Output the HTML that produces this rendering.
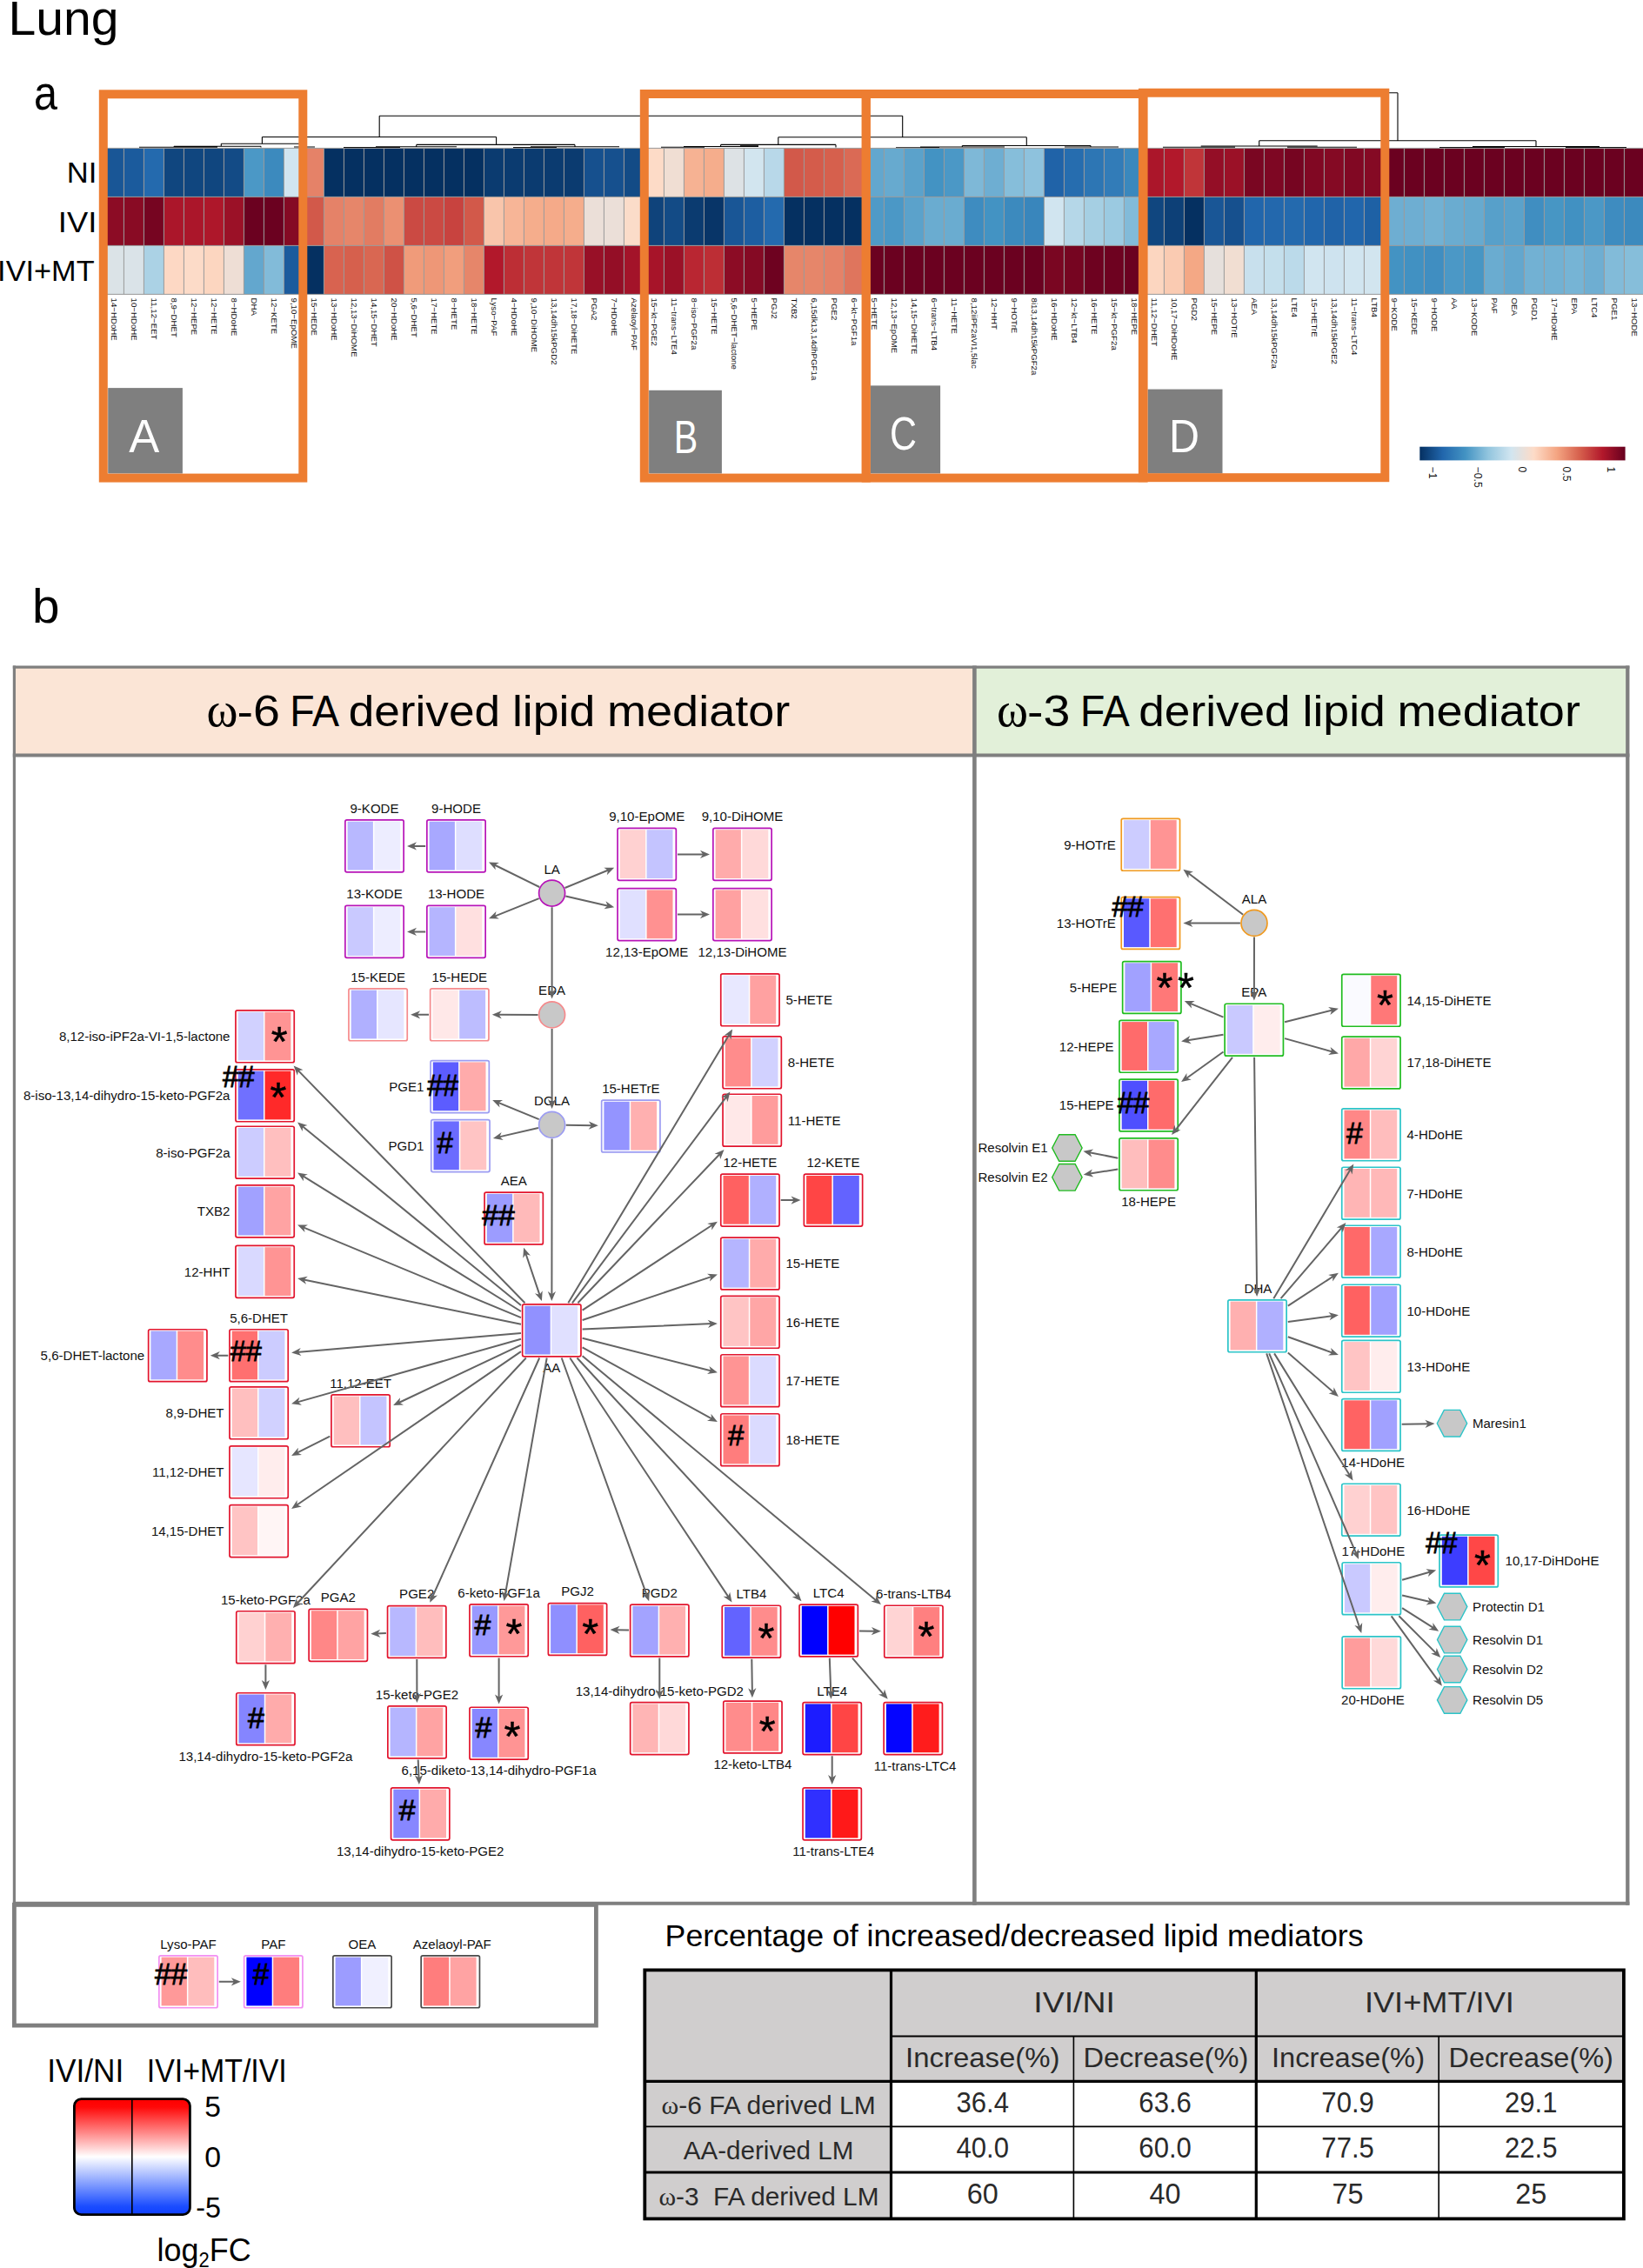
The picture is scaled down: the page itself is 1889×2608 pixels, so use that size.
<!DOCTYPE html>
<html lang="en"><head><meta charset="utf-8"><title>Lung lipid mediators</title>
<style>html,body{margin:0;padding:0;background:#fff}svg{display:block}</style></head>
<body>
<svg width="1889" height="2608" viewBox="0 0 1889 2608" font-family="'Liberation Sans',sans-serif">
<rect x="16" y="767" width="1104" height="102" fill="#fbe5d6"/>
<rect x="1121" y="767" width="750" height="102" fill="#e2f0d9"/>
<path d="M14.8 767.1H1873.4" stroke="#7f7f7f" stroke-width="3.4" fill="none"/>
<path d="M14.8 868.5H1873.4" stroke="#7f7f7f" stroke-width="3.9" fill="none"/>
<path d="M16.4 765.4V2190.8" stroke="#7f7f7f" stroke-width="3.2" fill="none"/>
<path d="M1120.4 765.4V2190.8" stroke="#7f7f7f" stroke-width="4.6" fill="none"/>
<path d="M1871.3 765.4V2190.8" stroke="#7f7f7f" stroke-width="4.3" fill="none"/>
<path d="M14.8 2188.8H1873.4" stroke="#7f7f7f" stroke-width="3.9" fill="none"/>
<rect x="16.4" y="2190.4" width="669" height="138.7" stroke="#7f7f7f" stroke-width="4.8" fill="none"/>
<text x="237.4" y="834.8" font-size="57" font-family="'Liberation Serif',serif" textLength="36" lengthAdjust="spacingAndGlyphs">ω</text>
<text x="272.5" y="834.8" font-size="49.5" textLength="49.4" lengthAdjust="spacingAndGlyphs">-6</text>
<text x="333.3" y="834.8" font-size="49.5" textLength="56.8" lengthAdjust="spacingAndGlyphs">FA</text>
<text x="400.7" y="834.8" font-size="49.5" textLength="174.4" lengthAdjust="spacingAndGlyphs">derived</text>
<text x="588.9" y="834.8" font-size="49.5" textLength="95.4" lengthAdjust="spacingAndGlyphs">lipid</text>
<text x="698.0" y="834.8" font-size="49.5" textLength="210.3" lengthAdjust="spacingAndGlyphs">mediator</text>
<text x="1146.0" y="835.1" font-size="57" font-family="'Liberation Serif',serif" textLength="36" lengthAdjust="spacingAndGlyphs">ω</text>
<text x="1181.1" y="835.1" font-size="49.5" textLength="49.4" lengthAdjust="spacingAndGlyphs">-3</text>
<text x="1241.9" y="835.1" font-size="49.5" textLength="56.8" lengthAdjust="spacingAndGlyphs">FA</text>
<text x="1309.3" y="835.1" font-size="49.5" textLength="174.4" lengthAdjust="spacingAndGlyphs">derived</text>
<text x="1497.5" y="835.1" font-size="49.5" textLength="95.4" lengthAdjust="spacingAndGlyphs">lipid</text>
<text x="1606.6" y="835.1" font-size="49.5" textLength="210.3" lengthAdjust="spacingAndGlyphs">mediator</text>
<text x="37" y="716" font-size="56" textLength="31.5" lengthAdjust="spacingAndGlyphs">b</text>
<text x="9.5" y="39.6" font-size="56" textLength="127" lengthAdjust="spacingAndGlyphs">Lung</text>
<text x="39" y="126.3" font-size="56" textLength="27" lengthAdjust="spacingAndGlyphs">a</text>
<text x="111.3" y="210" font-size="33.5" text-anchor="end" textLength="34.5" lengthAdjust="spacingAndGlyphs">NI</text>
<text x="111.3" y="266.5" font-size="33.5" text-anchor="end" textLength="44.5" lengthAdjust="spacingAndGlyphs">IVI</text>
<text x="108.6" y="322.5" font-size="33.5" text-anchor="end" textLength="111.5" lengthAdjust="spacingAndGlyphs">IVI+MT</text>
<path d="M737 106.8H1607M737 106.8V133.2M1607 106.8V161.7M436.2 133.2H1037.7M436.2 133.2V157.5M1037.7 133.2V157.8M301.4 157.5H570.6M301.4 157.5V165.2M570.6 157.5V166.4M254.3 165.2H349.3M254.3 165.2V168.3M349.3 165.2V169.0M200 168.3H300M200 168.3V169.5M300 168.3V169.5M160 169.3H250M338 169.0H362M478.7 166.4H661M478.7 166.4V168.8M661 166.4V168.8M432 168.8H525M610 168.8H712M395 169.6H460M590 169.6H640M894.8 157.8H1180.3M894.8 157.8V166.4M1180.3 157.8V167.5M828.6 166.4H961M828.6 166.4V168.5M961 166.4V169.5M786 168.5H872M760 169.3H810M851 167.8H872M1106.3 167.5H1254M1106.3 167.5V169M1254 167.5V169M1058 169H1155M1224 169H1286M1030 169.7H1080M1447.7 161.7H1766M1447.7 161.7V168M1766 161.7V168.5M1380.7 168H1514.7M1693 168.5H1839M1337 169.3H1420M1480 169.3H1560M1655 169.5H1730M1800 169.5H1870" stroke="#000" stroke-width="1.1" fill="none"/>
<rect x="119.4" y="170.4" width="23.0" height="56.0" fill="#195696"/>
<rect x="142.4" y="170.4" width="23.0" height="56.0" fill="#1b5b9d"/>
<rect x="165.4" y="170.4" width="23.0" height="56.0" fill="#246aae"/>
<rect x="188.4" y="170.4" width="23.0" height="56.0" fill="#10467f"/>
<rect x="211.4" y="170.4" width="23.0" height="56.0" fill="#10467f"/>
<rect x="234.4" y="170.4" width="23.0" height="56.0" fill="#10467f"/>
<rect x="257.4" y="170.4" width="23.0" height="56.0" fill="#134b86"/>
<rect x="280.4" y="170.4" width="23.0" height="56.0" fill="#4b98c6"/>
<rect x="303.4" y="170.4" width="23.0" height="56.0" fill="#3c8abe"/>
<rect x="326.4" y="170.4" width="23.0" height="56.0" fill="#d1e5f0"/>
<rect x="349.4" y="170.4" width="23.0" height="56.0" fill="#e58268"/>
<rect x="372.4" y="170.4" width="23.0" height="56.0" fill="#053061"/>
<rect x="395.4" y="170.4" width="23.0" height="56.0" fill="#053061"/>
<rect x="418.4" y="170.4" width="23.0" height="56.0" fill="#053061"/>
<rect x="441.4" y="170.4" width="23.0" height="56.0" fill="#053061"/>
<rect x="464.4" y="170.4" width="23.0" height="56.0" fill="#053061"/>
<rect x="487.4" y="170.4" width="23.0" height="56.0" fill="#053061"/>
<rect x="510.4" y="170.4" width="23.0" height="56.0" fill="#053061"/>
<rect x="533.4" y="170.4" width="23.0" height="56.0" fill="#053061"/>
<rect x="556.4" y="170.4" width="23.0" height="56.0" fill="#0b3b70"/>
<rect x="579.4" y="170.4" width="23.0" height="56.0" fill="#0b3b70"/>
<rect x="602.4" y="170.4" width="23.0" height="56.0" fill="#0b3b70"/>
<rect x="625.4" y="170.4" width="23.0" height="56.0" fill="#0b3b70"/>
<rect x="648.4" y="170.4" width="23.0" height="56.0" fill="#0b3b70"/>
<rect x="671.4" y="170.4" width="23.0" height="56.0" fill="#16508e"/>
<rect x="694.4" y="170.4" width="23.0" height="56.0" fill="#16508e"/>
<rect x="717.4" y="170.4" width="23.0" height="56.0" fill="#134b86"/>
<rect x="740.4" y="170.4" width="23.0" height="56.0" fill="#fddbc7"/>
<rect x="763.4" y="170.4" width="23.0" height="56.0" fill="#f0ded3"/>
<rect x="786.4" y="170.4" width="23.0" height="56.0" fill="#f6b293"/>
<rect x="809.4" y="170.4" width="23.0" height="56.0" fill="#f5ad8c"/>
<rect x="832.4" y="170.4" width="23.0" height="56.0" fill="#dde2e5"/>
<rect x="855.4" y="170.4" width="23.0" height="56.0" fill="#d2e5ef"/>
<rect x="878.4" y="170.4" width="23.0" height="56.0" fill="#b8d8e9"/>
<rect x="901.4" y="170.4" width="23.0" height="56.0" fill="#d2594a"/>
<rect x="924.4" y="170.4" width="23.0" height="56.0" fill="#d45c4b"/>
<rect x="947.4" y="170.4" width="23.0" height="56.0" fill="#d6604d"/>
<rect x="970.4" y="170.4" width="23.0" height="56.0" fill="#da6a55"/>
<rect x="993.4" y="170.4" width="23.0" height="56.0" fill="#63a7ce"/>
<rect x="1016.4" y="170.4" width="23.0" height="56.0" fill="#67aacf"/>
<rect x="1039.4" y="170.4" width="23.0" height="56.0" fill="#5ba2cb"/>
<rect x="1062.4" y="170.4" width="23.0" height="56.0" fill="#4393c3"/>
<rect x="1085.4" y="170.4" width="23.0" height="56.0" fill="#4b98c6"/>
<rect x="1108.4" y="170.4" width="23.0" height="56.0" fill="#7eb8d7"/>
<rect x="1131.4" y="170.4" width="23.0" height="56.0" fill="#6eaed2"/>
<rect x="1154.4" y="170.4" width="23.0" height="56.0" fill="#86beda"/>
<rect x="1177.4" y="170.4" width="23.0" height="56.0" fill="#8ec2dd"/>
<rect x="1200.4" y="170.4" width="23.0" height="56.0" fill="#2063a8"/>
<rect x="1223.4" y="170.4" width="23.0" height="56.0" fill="#266daf"/>
<rect x="1246.4" y="170.4" width="23.0" height="56.0" fill="#2d76b4"/>
<rect x="1269.4" y="170.4" width="23.0" height="56.0" fill="#327cb8"/>
<rect x="1292.4" y="170.4" width="23.0" height="56.0" fill="#3a88bd"/>
<rect x="1315.4" y="170.4" width="23.0" height="56.0" fill="#ab162a"/>
<rect x="1338.4" y="170.4" width="23.0" height="56.0" fill="#b2182b"/>
<rect x="1361.4" y="170.4" width="23.0" height="56.0" fill="#c03539"/>
<rect x="1384.4" y="170.4" width="23.0" height="56.0" fill="#940e26"/>
<rect x="1407.4" y="170.4" width="23.0" height="56.0" fill="#9b1127"/>
<rect x="1430.4" y="170.4" width="23.0" height="56.0" fill="#7a0622"/>
<rect x="1453.4" y="170.4" width="23.0" height="56.0" fill="#7e0723"/>
<rect x="1476.4" y="170.4" width="23.0" height="56.0" fill="#760521"/>
<rect x="1499.4" y="170.4" width="23.0" height="56.0" fill="#810823"/>
<rect x="1522.4" y="170.4" width="23.0" height="56.0" fill="#850a24"/>
<rect x="1545.4" y="170.4" width="23.0" height="56.0" fill="#810823"/>
<rect x="1568.4" y="170.4" width="23.0" height="56.0" fill="#850a24"/>
<rect x="1591.4" y="170.4" width="23.0" height="56.0" fill="#6b0120"/>
<rect x="1614.4" y="170.4" width="23.0" height="56.0" fill="#6b0120"/>
<rect x="1637.4" y="170.4" width="23.0" height="56.0" fill="#6b0120"/>
<rect x="1660.4" y="170.4" width="23.0" height="56.0" fill="#6b0120"/>
<rect x="1683.4" y="170.4" width="23.0" height="56.0" fill="#6b0120"/>
<rect x="1706.4" y="170.4" width="23.0" height="56.0" fill="#6b0120"/>
<rect x="1729.4" y="170.4" width="23.0" height="56.0" fill="#6b0120"/>
<rect x="1752.4" y="170.4" width="23.0" height="56.0" fill="#6b0120"/>
<rect x="1775.4" y="170.4" width="23.0" height="56.0" fill="#6b0120"/>
<rect x="1798.4" y="170.4" width="23.0" height="56.0" fill="#6b0120"/>
<rect x="1821.4" y="170.4" width="23.0" height="56.0" fill="#6b0120"/>
<rect x="1844.4" y="170.4" width="23.0" height="56.0" fill="#6b0120"/>
<rect x="1867.4" y="170.4" width="23.0" height="56.0" fill="#6b0120"/>
<rect x="119.4" y="226.4" width="23.0" height="56.0" fill="#8c0c25"/>
<rect x="142.4" y="226.4" width="23.0" height="56.0" fill="#890b24"/>
<rect x="165.4" y="226.4" width="23.0" height="56.0" fill="#760521"/>
<rect x="188.4" y="226.4" width="23.0" height="56.0" fill="#ab162a"/>
<rect x="211.4" y="226.4" width="23.0" height="56.0" fill="#ab162a"/>
<rect x="234.4" y="226.4" width="23.0" height="56.0" fill="#ae172a"/>
<rect x="257.4" y="226.4" width="23.0" height="56.0" fill="#9b1127"/>
<rect x="280.4" y="226.4" width="23.0" height="56.0" fill="#6b0120"/>
<rect x="303.4" y="226.4" width="23.0" height="56.0" fill="#6b0120"/>
<rect x="326.4" y="226.4" width="23.0" height="56.0" fill="#850a24"/>
<rect x="349.4" y="226.4" width="23.0" height="56.0" fill="#d2594a"/>
<rect x="372.4" y="226.4" width="23.0" height="56.0" fill="#e58268"/>
<rect x="395.4" y="226.4" width="23.0" height="56.0" fill="#e6866a"/>
<rect x="418.4" y="226.4" width="23.0" height="56.0" fill="#e27c62"/>
<rect x="441.4" y="226.4" width="23.0" height="56.0" fill="#eb9072"/>
<rect x="464.4" y="226.4" width="23.0" height="56.0" fill="#cb4a43"/>
<rect x="487.4" y="226.4" width="23.0" height="56.0" fill="#cb4a43"/>
<rect x="510.4" y="226.4" width="23.0" height="56.0" fill="#c8433f"/>
<rect x="533.4" y="226.4" width="23.0" height="56.0" fill="#d2594a"/>
<rect x="556.4" y="226.4" width="23.0" height="56.0" fill="#f9c5ab"/>
<rect x="579.4" y="226.4" width="23.0" height="56.0" fill="#f7b597"/>
<rect x="602.4" y="226.4" width="23.0" height="56.0" fill="#f5ad8c"/>
<rect x="625.4" y="226.4" width="23.0" height="56.0" fill="#f5aa89"/>
<rect x="648.4" y="226.4" width="23.0" height="56.0" fill="#f5ad8c"/>
<rect x="671.4" y="226.4" width="23.0" height="56.0" fill="#ebdfd8"/>
<rect x="694.4" y="226.4" width="23.0" height="56.0" fill="#ebdfd8"/>
<rect x="717.4" y="226.4" width="23.0" height="56.0" fill="#fbdcc9"/>
<rect x="740.4" y="226.4" width="23.0" height="56.0" fill="#0f437b"/>
<rect x="763.4" y="226.4" width="23.0" height="56.0" fill="#134b86"/>
<rect x="786.4" y="226.4" width="23.0" height="56.0" fill="#0b3b70"/>
<rect x="809.4" y="226.4" width="23.0" height="56.0" fill="#083568"/>
<rect x="832.4" y="226.4" width="23.0" height="56.0" fill="#195696"/>
<rect x="855.4" y="226.4" width="23.0" height="56.0" fill="#1d5ea1"/>
<rect x="878.4" y="226.4" width="23.0" height="56.0" fill="#246aae"/>
<rect x="901.4" y="226.4" width="23.0" height="56.0" fill="#053061"/>
<rect x="924.4" y="226.4" width="23.0" height="56.0" fill="#053061"/>
<rect x="947.4" y="226.4" width="23.0" height="56.0" fill="#053061"/>
<rect x="970.4" y="226.4" width="23.0" height="56.0" fill="#053061"/>
<rect x="993.4" y="226.4" width="23.0" height="56.0" fill="#4f9ac7"/>
<rect x="1016.4" y="226.4" width="23.0" height="56.0" fill="#4b98c6"/>
<rect x="1039.4" y="226.4" width="23.0" height="56.0" fill="#5ba2cb"/>
<rect x="1062.4" y="226.4" width="23.0" height="56.0" fill="#6aacd0"/>
<rect x="1085.4" y="226.4" width="23.0" height="56.0" fill="#6aacd0"/>
<rect x="1108.4" y="226.4" width="23.0" height="56.0" fill="#3e8cc0"/>
<rect x="1131.4" y="226.4" width="23.0" height="56.0" fill="#4393c3"/>
<rect x="1154.4" y="226.4" width="23.0" height="56.0" fill="#3c8abe"/>
<rect x="1177.4" y="226.4" width="23.0" height="56.0" fill="#3986bc"/>
<rect x="1200.4" y="226.4" width="23.0" height="56.0" fill="#d1e5f0"/>
<rect x="1223.4" y="226.4" width="23.0" height="56.0" fill="#b5d7e8"/>
<rect x="1246.4" y="226.4" width="23.0" height="56.0" fill="#a5cfe3"/>
<rect x="1269.4" y="226.4" width="23.0" height="56.0" fill="#9bcae1"/>
<rect x="1292.4" y="226.4" width="23.0" height="56.0" fill="#82bbd9"/>
<rect x="1315.4" y="226.4" width="23.0" height="56.0" fill="#10467f"/>
<rect x="1338.4" y="226.4" width="23.0" height="56.0" fill="#0d4077"/>
<rect x="1361.4" y="226.4" width="23.0" height="56.0" fill="#053061"/>
<rect x="1384.4" y="226.4" width="23.0" height="56.0" fill="#195696"/>
<rect x="1407.4" y="226.4" width="23.0" height="56.0" fill="#16508e"/>
<rect x="1430.4" y="226.4" width="23.0" height="56.0" fill="#2166ac"/>
<rect x="1453.4" y="226.4" width="23.0" height="56.0" fill="#2368ad"/>
<rect x="1476.4" y="226.4" width="23.0" height="56.0" fill="#246aae"/>
<rect x="1499.4" y="226.4" width="23.0" height="56.0" fill="#2166ac"/>
<rect x="1522.4" y="226.4" width="23.0" height="56.0" fill="#2063a8"/>
<rect x="1545.4" y="226.4" width="23.0" height="56.0" fill="#2166ac"/>
<rect x="1568.4" y="226.4" width="23.0" height="56.0" fill="#1e61a5"/>
<rect x="1591.4" y="226.4" width="23.0" height="56.0" fill="#6eaed2"/>
<rect x="1614.4" y="226.4" width="23.0" height="56.0" fill="#6eaed2"/>
<rect x="1637.4" y="226.4" width="23.0" height="56.0" fill="#72b1d3"/>
<rect x="1660.4" y="226.4" width="23.0" height="56.0" fill="#6aacd0"/>
<rect x="1683.4" y="226.4" width="23.0" height="56.0" fill="#67aacf"/>
<rect x="1706.4" y="226.4" width="23.0" height="56.0" fill="#57a0ca"/>
<rect x="1729.4" y="226.4" width="23.0" height="56.0" fill="#5ba2cb"/>
<rect x="1752.4" y="226.4" width="23.0" height="56.0" fill="#408ec1"/>
<rect x="1775.4" y="226.4" width="23.0" height="56.0" fill="#4796c4"/>
<rect x="1798.4" y="226.4" width="23.0" height="56.0" fill="#4191c2"/>
<rect x="1821.4" y="226.4" width="23.0" height="56.0" fill="#4b98c6"/>
<rect x="1844.4" y="226.4" width="23.0" height="56.0" fill="#3e8cc0"/>
<rect x="1867.4" y="226.4" width="23.0" height="56.0" fill="#3c8abe"/>
<rect x="119.4" y="282.4" width="23.0" height="56.0" fill="#dbe3e7"/>
<rect x="142.4" y="282.4" width="23.0" height="56.0" fill="#dae3e8"/>
<rect x="165.4" y="282.4" width="23.0" height="56.0" fill="#abd2e5"/>
<rect x="188.4" y="282.4" width="23.0" height="56.0" fill="#fdd8c4"/>
<rect x="211.4" y="282.4" width="23.0" height="56.0" fill="#fcdbc8"/>
<rect x="234.4" y="282.4" width="23.0" height="56.0" fill="#fcd6c0"/>
<rect x="257.4" y="282.4" width="23.0" height="56.0" fill="#eeded5"/>
<rect x="280.4" y="282.4" width="23.0" height="56.0" fill="#63a7ce"/>
<rect x="303.4" y="282.4" width="23.0" height="56.0" fill="#82bbd9"/>
<rect x="326.4" y="282.4" width="23.0" height="56.0" fill="#1b5b9d"/>
<rect x="349.4" y="282.4" width="23.0" height="56.0" fill="#053061"/>
<rect x="372.4" y="282.4" width="23.0" height="56.0" fill="#d86350"/>
<rect x="395.4" y="282.4" width="23.0" height="56.0" fill="#d6604d"/>
<rect x="418.4" y="282.4" width="23.0" height="56.0" fill="#d96752"/>
<rect x="441.4" y="282.4" width="23.0" height="56.0" fill="#cf5246"/>
<rect x="464.4" y="282.4" width="23.0" height="56.0" fill="#f09b7a"/>
<rect x="487.4" y="282.4" width="23.0" height="56.0" fill="#ee9777"/>
<rect x="510.4" y="282.4" width="23.0" height="56.0" fill="#f19e7d"/>
<rect x="533.4" y="282.4" width="23.0" height="56.0" fill="#e6866a"/>
<rect x="556.4" y="282.4" width="23.0" height="56.0" fill="#b2182b"/>
<rect x="579.4" y="282.4" width="23.0" height="56.0" fill="#bd2e35"/>
<rect x="602.4" y="282.4" width="23.0" height="56.0" fill="#c03539"/>
<rect x="625.4" y="282.4" width="23.0" height="56.0" fill="#c03539"/>
<rect x="648.4" y="282.4" width="23.0" height="56.0" fill="#c03539"/>
<rect x="671.4" y="282.4" width="23.0" height="56.0" fill="#981027"/>
<rect x="694.4" y="282.4" width="23.0" height="56.0" fill="#940e26"/>
<rect x="717.4" y="282.4" width="23.0" height="56.0" fill="#a31329"/>
<rect x="740.4" y="282.4" width="23.0" height="56.0" fill="#a71429"/>
<rect x="763.4" y="282.4" width="23.0" height="56.0" fill="#9b1127"/>
<rect x="786.4" y="282.4" width="23.0" height="56.0" fill="#b92632"/>
<rect x="809.4" y="282.4" width="23.0" height="56.0" fill="#bd2e35"/>
<rect x="832.4" y="282.4" width="23.0" height="56.0" fill="#8c0c25"/>
<rect x="855.4" y="282.4" width="23.0" height="56.0" fill="#850a24"/>
<rect x="878.4" y="282.4" width="23.0" height="56.0" fill="#6e0220"/>
<rect x="901.4" y="282.4" width="23.0" height="56.0" fill="#e6866a"/>
<rect x="924.4" y="282.4" width="23.0" height="56.0" fill="#e6866a"/>
<rect x="947.4" y="282.4" width="23.0" height="56.0" fill="#e58268"/>
<rect x="970.4" y="282.4" width="23.0" height="56.0" fill="#df755d"/>
<rect x="993.4" y="282.4" width="23.0" height="56.0" fill="#6b0120"/>
<rect x="1016.4" y="282.4" width="23.0" height="56.0" fill="#6b0120"/>
<rect x="1039.4" y="282.4" width="23.0" height="56.0" fill="#6b0120"/>
<rect x="1062.4" y="282.4" width="23.0" height="56.0" fill="#6b0120"/>
<rect x="1085.4" y="282.4" width="23.0" height="56.0" fill="#6b0120"/>
<rect x="1108.4" y="282.4" width="23.0" height="56.0" fill="#6b0120"/>
<rect x="1131.4" y="282.4" width="23.0" height="56.0" fill="#6b0120"/>
<rect x="1154.4" y="282.4" width="23.0" height="56.0" fill="#6b0120"/>
<rect x="1177.4" y="282.4" width="23.0" height="56.0" fill="#6b0120"/>
<rect x="1200.4" y="282.4" width="23.0" height="56.0" fill="#7a0622"/>
<rect x="1223.4" y="282.4" width="23.0" height="56.0" fill="#760521"/>
<rect x="1246.4" y="282.4" width="23.0" height="56.0" fill="#6e0220"/>
<rect x="1269.4" y="282.4" width="23.0" height="56.0" fill="#6e0220"/>
<rect x="1292.4" y="282.4" width="23.0" height="56.0" fill="#6b0120"/>
<rect x="1315.4" y="282.4" width="23.0" height="56.0" fill="#fcd6c0"/>
<rect x="1338.4" y="282.4" width="23.0" height="56.0" fill="#facbb2"/>
<rect x="1361.4" y="282.4" width="23.0" height="56.0" fill="#f4a885"/>
<rect x="1384.4" y="282.4" width="23.0" height="56.0" fill="#e6e0dc"/>
<rect x="1407.4" y="282.4" width="23.0" height="56.0" fill="#f1ded2"/>
<rect x="1430.4" y="282.4" width="23.0" height="56.0" fill="#c8e0ed"/>
<rect x="1453.4" y="282.4" width="23.0" height="56.0" fill="#c4dfec"/>
<rect x="1476.4" y="282.4" width="23.0" height="56.0" fill="#bbdaea"/>
<rect x="1499.4" y="282.4" width="23.0" height="56.0" fill="#d1e5f0"/>
<rect x="1522.4" y="282.4" width="23.0" height="56.0" fill="#cee3ef"/>
<rect x="1545.4" y="282.4" width="23.0" height="56.0" fill="#d1e5f0"/>
<rect x="1568.4" y="282.4" width="23.0" height="56.0" fill="#d2e5ef"/>
<rect x="1591.4" y="282.4" width="23.0" height="56.0" fill="#4393c3"/>
<rect x="1614.4" y="282.4" width="23.0" height="56.0" fill="#4191c2"/>
<rect x="1637.4" y="282.4" width="23.0" height="56.0" fill="#408ec1"/>
<rect x="1660.4" y="282.4" width="23.0" height="56.0" fill="#4b98c6"/>
<rect x="1683.4" y="282.4" width="23.0" height="56.0" fill="#4796c4"/>
<rect x="1706.4" y="282.4" width="23.0" height="56.0" fill="#6aacd0"/>
<rect x="1729.4" y="282.4" width="23.0" height="56.0" fill="#63a7ce"/>
<rect x="1752.4" y="282.4" width="23.0" height="56.0" fill="#72b1d3"/>
<rect x="1775.4" y="282.4" width="23.0" height="56.0" fill="#72b1d3"/>
<rect x="1798.4" y="282.4" width="23.0" height="56.0" fill="#76b4d5"/>
<rect x="1821.4" y="282.4" width="23.0" height="56.0" fill="#6eaed2"/>
<rect x="1844.4" y="282.4" width="23.0" height="56.0" fill="#82bbd9"/>
<rect x="1867.4" y="282.4" width="23.0" height="56.0" fill="#86beda"/>
<path d="M119.4 170.4V338.4M142.4 170.4V338.4M165.4 170.4V338.4M188.4 170.4V338.4M211.4 170.4V338.4M234.4 170.4V338.4M257.4 170.4V338.4M280.4 170.4V338.4M303.4 170.4V338.4M326.4 170.4V338.4M349.4 170.4V338.4M372.4 170.4V338.4M395.4 170.4V338.4M418.4 170.4V338.4M441.4 170.4V338.4M464.4 170.4V338.4M487.4 170.4V338.4M510.4 170.4V338.4M533.4 170.4V338.4M556.4 170.4V338.4M579.4 170.4V338.4M602.4 170.4V338.4M625.4 170.4V338.4M648.4 170.4V338.4M671.4 170.4V338.4M694.4 170.4V338.4M717.4 170.4V338.4M740.4 170.4V338.4M763.4 170.4V338.4M786.4 170.4V338.4M809.4 170.4V338.4M832.4 170.4V338.4M855.4 170.4V338.4M878.4 170.4V338.4M901.4 170.4V338.4M924.4 170.4V338.4M947.4 170.4V338.4M970.4 170.4V338.4M993.4 170.4V338.4M1016.4 170.4V338.4M1039.4 170.4V338.4M1062.4 170.4V338.4M1085.4 170.4V338.4M1108.4 170.4V338.4M1131.4 170.4V338.4M1154.4 170.4V338.4M1177.4 170.4V338.4M1200.4 170.4V338.4M1223.4 170.4V338.4M1246.4 170.4V338.4M1269.4 170.4V338.4M1292.4 170.4V338.4M1315.4 170.4V338.4M1338.4 170.4V338.4M1361.4 170.4V338.4M1384.4 170.4V338.4M1407.4 170.4V338.4M1430.4 170.4V338.4M1453.4 170.4V338.4M1476.4 170.4V338.4M1499.4 170.4V338.4M1522.4 170.4V338.4M1545.4 170.4V338.4M1568.4 170.4V338.4M1591.4 170.4V338.4M1614.4 170.4V338.4M1637.4 170.4V338.4M1660.4 170.4V338.4M1683.4 170.4V338.4M1706.4 170.4V338.4M1729.4 170.4V338.4M1752.4 170.4V338.4M1775.4 170.4V338.4M1798.4 170.4V338.4M1821.4 170.4V338.4M1844.4 170.4V338.4M1867.4 170.4V338.4M1890.4 170.4V338.4M119.4 170.4H1890.4M119.4 226.4H1890.4M119.4 282.4H1890.4M119.4 338.4H1890.4" stroke="#999" stroke-width="1" fill="none"/>
<g font-size="9.7" fill="#111">
<text transform="translate(127.5 342.5) rotate(90)">14−HDoHE</text>
<text transform="translate(150.5 342.5) rotate(90)">10−HDoHE</text>
<text transform="translate(173.5 342.5) rotate(90)">11,12−EET</text>
<text transform="translate(196.5 342.5) rotate(90)">8,9−DHET</text>
<text transform="translate(219.5 342.5) rotate(90)">12−HEPE</text>
<text transform="translate(242.5 342.5) rotate(90)">12−HETE</text>
<text transform="translate(265.5 342.5) rotate(90)">8−HDoHE</text>
<text transform="translate(288.5 342.5) rotate(90)">DHA</text>
<text transform="translate(311.5 342.5) rotate(90)">12−KETE</text>
<text transform="translate(334.5 342.5) rotate(90)">9,10−EpOME</text>
<text transform="translate(357.5 342.5) rotate(90)">15−HEDE</text>
<text transform="translate(380.5 342.5) rotate(90)">13−HDoHE</text>
<text transform="translate(403.5 342.5) rotate(90)">12,13−DiHOME</text>
<text transform="translate(426.5 342.5) rotate(90)">14,15−DHET</text>
<text transform="translate(449.5 342.5) rotate(90)">20−HDoHE</text>
<text transform="translate(472.5 342.5) rotate(90)">5,6−DHET</text>
<text transform="translate(495.5 342.5) rotate(90)">17−HETE</text>
<text transform="translate(518.5 342.5) rotate(90)">8−HETE</text>
<text transform="translate(541.5 342.5) rotate(90)">18−HETE</text>
<text transform="translate(564.5 342.5) rotate(90)">Lyso−PAF</text>
<text transform="translate(587.5 342.5) rotate(90)">4−HDoHE</text>
<text transform="translate(610.5 342.5) rotate(90)">9,10−DiHOME</text>
<text transform="translate(633.5 342.5) rotate(90)">13,14dh15kPGD2</text>
<text transform="translate(656.5 342.5) rotate(90)">17,18−DiHETE</text>
<text transform="translate(679.5 342.5) rotate(90)">PGA2</text>
<text transform="translate(702.5 342.5) rotate(90)">7−HDoHE</text>
<text transform="translate(725.5 342.5) rotate(90)">Azelaoyl−PAF</text>
<text transform="translate(748.5 342.5) rotate(90)">15−kt−PGE2</text>
<text transform="translate(771.5 342.5) rotate(90)">11−trans−LTE4</text>
<text transform="translate(794.5 342.5) rotate(90)">8−iso−PGF2a</text>
<text transform="translate(817.5 342.5) rotate(90)">15−HETE</text>
<text transform="translate(840.5 342.5) rotate(90)">5,6−DHET−lactone</text>
<text transform="translate(863.5 342.5) rotate(90)">5−HEPE</text>
<text transform="translate(886.5 342.5) rotate(90)">PGJ2</text>
<text transform="translate(909.5 342.5) rotate(90)">TXB2</text>
<text transform="translate(932.5 342.5) rotate(90)">6,15dk13,14dhPGF1a</text>
<text transform="translate(955.5 342.5) rotate(90)">PGE2</text>
<text transform="translate(978.5 342.5) rotate(90)">6−kt−PGF1a</text>
<text transform="translate(1001.5 342.5) rotate(90)">5−HETE</text>
<text transform="translate(1024.5 342.5) rotate(90)">12,13−EpOME</text>
<text transform="translate(1047.5 342.5) rotate(90)">14,15−DiHETE</text>
<text transform="translate(1070.5 342.5) rotate(90)">6−trans−LTB4</text>
<text transform="translate(1093.5 342.5) rotate(90)">11−HETE</text>
<text transform="translate(1116.5 342.5) rotate(90)">8,12iiPF2aVI1,5lac</text>
<text transform="translate(1139.5 342.5) rotate(90)">12−HHT</text>
<text transform="translate(1162.5 342.5) rotate(90)">9−HOTrE</text>
<text transform="translate(1185.5 342.5) rotate(90)">8i13,14dh15kPGF2a</text>
<text transform="translate(1208.5 342.5) rotate(90)">16−HDoHE</text>
<text transform="translate(1231.5 342.5) rotate(90)">12−kt−LTB4</text>
<text transform="translate(1254.5 342.5) rotate(90)">16−HETE</text>
<text transform="translate(1277.5 342.5) rotate(90)">15−kt−PGF2a</text>
<text transform="translate(1300.5 342.5) rotate(90)">18−HEPE</text>
<text transform="translate(1323.5 342.5) rotate(90)">11,12−DHET</text>
<text transform="translate(1346.5 342.5) rotate(90)">10,17−DiHDoHE</text>
<text transform="translate(1369.5 342.5) rotate(90)">PGD2</text>
<text transform="translate(1392.5 342.5) rotate(90)">15−HEPE</text>
<text transform="translate(1415.5 342.5) rotate(90)">13−HOTrE</text>
<text transform="translate(1438.5 342.5) rotate(90)">AEA</text>
<text transform="translate(1461.5 342.5) rotate(90)">13,14dh15kPGF2a</text>
<text transform="translate(1484.5 342.5) rotate(90)">LTE4</text>
<text transform="translate(1507.5 342.5) rotate(90)">15−HETrE</text>
<text transform="translate(1530.5 342.5) rotate(90)">13,14dh15kPGE2</text>
<text transform="translate(1553.5 342.5) rotate(90)">11−trans−LTC4</text>
<text transform="translate(1576.5 342.5) rotate(90)">LTB4</text>
<text transform="translate(1599.5 342.5) rotate(90)">9−KODE</text>
<text transform="translate(1622.5 342.5) rotate(90)">15−KEDE</text>
<text transform="translate(1645.5 342.5) rotate(90)">9−HODE</text>
<text transform="translate(1668.5 342.5) rotate(90)">AA</text>
<text transform="translate(1691.5 342.5) rotate(90)">13−KODE</text>
<text transform="translate(1714.5 342.5) rotate(90)">PAF</text>
<text transform="translate(1737.5 342.5) rotate(90)">OEA</text>
<text transform="translate(1760.5 342.5) rotate(90)">PGD1</text>
<text transform="translate(1783.5 342.5) rotate(90)">17−HDoHE</text>
<text transform="translate(1806.5 342.5) rotate(90)">EPA</text>
<text transform="translate(1829.5 342.5) rotate(90)">LTC4</text>
<text transform="translate(1852.5 342.5) rotate(90)">PGE1</text>
<text transform="translate(1875.5 342.5) rotate(90)">13−HODE</text>
</g>
<rect x="124.2" y="446.1" width="85.7" height="98.4" fill="#7f7f7f"/>
<text x="165.8" y="519.7" font-size="54" fill="#fff" text-anchor="middle" textLength="35" lengthAdjust="spacingAndGlyphs">A</text>
<rect x="746.1" y="448.8" width="83.8" height="95.7" fill="#7f7f7f"/>
<text x="788.5" y="520.9" font-size="54" fill="#fff" text-anchor="middle" textLength="27.5" lengthAdjust="spacingAndGlyphs">B</text>
<rect x="1001.0" y="443.4" width="80.1" height="101.1" fill="#7f7f7f"/>
<text x="1038.4" y="516.5" font-size="54" fill="#fff" text-anchor="middle" textLength="31" lengthAdjust="spacingAndGlyphs">C</text>
<rect x="1319.5" y="447.6" width="86.0" height="96.9" fill="#7f7f7f"/>
<text x="1361.5" y="519.9" font-size="54" fill="#fff" text-anchor="middle" textLength="35" lengthAdjust="spacingAndGlyphs">D</text>
<rect x="118.8" y="108.3" width="229.5" height="441.3" fill="none" stroke="#ed7d31" stroke-width="10"/>
<rect x="740.8" y="108.0" width="255.0" height="441.6" fill="none" stroke="#ed7d31" stroke-width="10"/>
<rect x="995.7" y="108.0" width="318.9" height="441.6" fill="none" stroke="#ed7d31" stroke-width="10"/>
<rect x="1313.9" y="106.7" width="278.4" height="442.5" fill="none" stroke="#ed7d31" stroke-width="10"/>
<defs><linearGradient id="cb" x1="0" x2="1" y1="0" y2="0"><stop offset="0.00%" stop-color="#053061"/><stop offset="11.11%" stop-color="#2166ac"/><stop offset="22.22%" stop-color="#4393c3"/><stop offset="33.33%" stop-color="#92c5de"/><stop offset="44.44%" stop-color="#d1e5f0"/><stop offset="55.56%" stop-color="#fddbc7"/><stop offset="66.67%" stop-color="#f4a582"/><stop offset="77.78%" stop-color="#d6604d"/><stop offset="88.89%" stop-color="#b2182b"/><stop offset="100.00%" stop-color="#67001f"/></linearGradient></defs>
<rect x="1632.3" y="513.7" width="236.3" height="15.7" fill="url(#cb)"/>
<g font-size="12.3" fill="#111">
<text transform="translate(1643.3 536.6) rotate(90)">−1</text>
<text transform="translate(1694.6 536.6) rotate(90)">−0.5</text>
<text transform="translate(1745.6 536.6) rotate(90)">0</text>
<text transform="translate(1797.0 536.6) rotate(90)">0.5</text>
<text transform="translate(1848.1 536.6) rotate(90)">1</text>
</g>
<g font-size="15.05" fill="#111">
<text x="430.5" y="934.8" text-anchor="middle">9-KODE</text>
<text x="524.5" y="934.8" text-anchor="middle">9-HODE</text>
<text x="430.5" y="1033.3" text-anchor="middle">13-KODE</text>
<text x="524.5" y="1033.3" text-anchor="middle">13-HODE</text>
<text x="743.7" y="944.3" text-anchor="middle">9,10-EpOME</text>
<text x="853.5" y="944.3" text-anchor="middle">9,10-DiHOME</text>
<text x="743.7" y="1099.7" text-anchor="middle">12,13-EpOME</text>
<text x="853.5" y="1099.7" text-anchor="middle">12,13-DiHOME</text>
<text x="634.6" y="1004.6" text-anchor="middle">LA</text>
<text x="434.6" y="1128.7" text-anchor="middle">15-KEDE</text>
<text x="528.3" y="1128.7" text-anchor="middle">15-HEDE</text>
<text x="634.6" y="1144.1" text-anchor="middle">EDA</text>
<text x="487.4" y="1254.9" text-anchor="end">PGE1</text>
<text x="487.4" y="1322.9" text-anchor="end">PGD1</text>
<text x="634.6" y="1270.5" text-anchor="middle">DGLA</text>
<text x="725.3" y="1256.9" text-anchor="middle">15-HETrE</text>
<text x="903.5" y="1155.1">5-HETE</text>
<text x="905.8" y="1227.1">8-HETE</text>
<text x="905.8" y="1293.5">11-HETE</text>
<text x="862.4" y="1342.0" text-anchor="middle">12-HETE</text>
<text x="958.0" y="1342.0" text-anchor="middle">12-KETE</text>
<text x="903.5" y="1458.3">15-HETE</text>
<text x="903.5" y="1525.6">16-HETE</text>
<text x="903.5" y="1593.0">17-HETE</text>
<text x="903.5" y="1661.0">18-HETE</text>
<text x="590.7" y="1362.9" text-anchor="middle">AEA</text>
<text x="634.3" y="1578.0" text-anchor="middle">AA</text>
<text x="264.5" y="1197.1" text-anchor="end">8,12-iso-iPF2a-VI-1,5-lactone</text>
<text x="264.5" y="1265.1" text-anchor="end">8-iso-13,14-dihydro-15-keto-PGF2a</text>
<text x="264.5" y="1330.5" text-anchor="end">8-iso-PGF2a</text>
<text x="264.5" y="1398.2" text-anchor="end">TXB2</text>
<text x="264.5" y="1467.7" text-anchor="end">12-HHT</text>
<text x="166.2" y="1564.0" text-anchor="end">5,6-DHET-lactone</text>
<text x="297.6" y="1520.6" text-anchor="middle">5,6-DHET</text>
<text x="257.5" y="1630.1" text-anchor="end">8,9-DHET</text>
<text x="257.5" y="1698.1" text-anchor="end">11,12-DHET</text>
<text x="257.5" y="1765.9" text-anchor="end">14,15-DHET</text>
<text x="414.6" y="1595.7" text-anchor="middle">11,12-EET</text>
<text x="305.4" y="1844.6" text-anchor="middle">15-keto-PGF2a</text>
<text x="388.8" y="1842.3" text-anchor="middle">PGA2</text>
<text x="479.2" y="1838.4" text-anchor="middle">PGE2</text>
<text x="573.6" y="1836.7" text-anchor="middle">6-keto-PGF1a</text>
<text x="664.0" y="1835.4" text-anchor="middle">PGJ2</text>
<text x="758.3" y="1836.9" text-anchor="middle">PGD2</text>
<text x="863.9" y="1838.1" text-anchor="middle">LTB4</text>
<text x="952.7" y="1836.9" text-anchor="middle">LTC4</text>
<text x="1050.4" y="1838.1" text-anchor="middle">6-trans-LTB4</text>
<text x="305.4" y="2024.8" text-anchor="middle">13,14-dihydro-15-keto-PGF2a</text>
<text x="479.5" y="1953.8" text-anchor="middle">15-keto-PGE2</text>
<text x="573.6" y="2041.3" text-anchor="middle">6,15-diketo-13,14-dihydro-PGF1a</text>
<text x="483.2" y="2134.0" text-anchor="middle">13,14-dihydro-15-keto-PGE2</text>
<text x="758.3" y="1949.5" text-anchor="middle">13,14-dihydro-15-keto-PGD2</text>
<text x="865.4" y="2034.1" text-anchor="middle">12-keto-LTB4</text>
<text x="956.7" y="1949.5" text-anchor="middle">LTE4</text>
<text x="1052.1" y="2035.7" text-anchor="middle">11-trans-LTC4</text>
<text x="958.2" y="2134.0" text-anchor="middle">11-trans-LTE4</text>
<text x="1282.8" y="976.6" text-anchor="end">9-HOTrE</text>
<text x="1282.8" y="1066.8" text-anchor="end">13-HOTrE</text>
<text x="1442.0" y="1038.8" text-anchor="middle">ALA</text>
<text x="1284.2" y="1140.8" text-anchor="end">5-HEPE</text>
<text x="1280.5" y="1208.6" text-anchor="end">12-HEPE</text>
<text x="1280.5" y="1276.3" text-anchor="end">15-HEPE</text>
<text x="1320.6" y="1386.9" text-anchor="middle">18-HEPE</text>
<text x="1441.8" y="1146.1" text-anchor="middle">EPA</text>
<text x="1617.5" y="1155.6">14,15-DiHETE</text>
<text x="1617.5" y="1227.3">17,18-DiHETE</text>
<text x="1617.5" y="1310.1">4-HDoHE</text>
<text x="1617.5" y="1377.5">7-HDoHE</text>
<text x="1617.5" y="1444.5">8-HDoHE</text>
<text x="1617.5" y="1512.5">10-HDoHE</text>
<text x="1617.5" y="1576.6">13-HDoHE</text>
<text x="1578.7" y="1686.6" text-anchor="middle">14-HDoHE</text>
<text x="1617.5" y="1741.5">16-HDoHE</text>
<text x="1578.9" y="1788.6" text-anchor="middle">17-HDoHE</text>
<text x="1578.5" y="1959.9" text-anchor="middle">20-HDoHE</text>
<text x="1446.5" y="1486.7" text-anchor="middle">DHA</text>
<text x="1730.6" y="1800.3">10,17-DiHDoHE</text>
<text x="1204.7" y="1324.8" text-anchor="end">Resolvin E1</text>
<text x="1204.7" y="1358.6" text-anchor="end">Resolvin E2</text>
<text x="1692.9" y="1641.7">Maresin1</text>
<text x="1693.1" y="1852.6">Protectin D1</text>
<text x="1693.1" y="1890.6">Resolvin D1</text>
<text x="1693.1" y="1924.5">Resolvin D2</text>
<text x="1693.1" y="1959.9">Resolvin D5</text>
<text x="216.5" y="2240.7" text-anchor="middle">Lyso-PAF</text>
<text x="314.3" y="2240.7" text-anchor="middle">PAF</text>
<text x="416.5" y="2240.7" text-anchor="middle">OEA</text>
<text x="519.8" y="2240.7" text-anchor="middle">Azelaoyl-PAF</text>
</g>
<rect x="396.85" y="942.95" width="67.3" height="59.9" rx="2" fill="#fff" stroke="#b714b8" stroke-width="1.7"/>
<rect x="399.60" y="944.70" width="29.3" height="55.8" fill="#b8b8ff"/>
<rect x="430.40" y="944.70" width="29.9" height="55.8" fill="#ededff"/>
<rect x="490.85" y="942.95" width="67.3" height="59.9" rx="2" fill="#fff" stroke="#b714b8" stroke-width="1.7"/>
<rect x="493.60" y="944.70" width="29.3" height="55.8" fill="#a8a8ff"/>
<rect x="524.40" y="944.70" width="29.9" height="55.8" fill="#dedeff"/>
<rect x="396.85" y="1041.45" width="67.3" height="59.9" rx="2" fill="#fff" stroke="#b714b8" stroke-width="1.7"/>
<rect x="399.60" y="1043.20" width="29.3" height="55.8" fill="#c9c9ff"/>
<rect x="430.40" y="1043.20" width="29.9" height="55.8" fill="#ededff"/>
<rect x="490.85" y="1041.45" width="67.3" height="59.9" rx="2" fill="#fff" stroke="#b714b8" stroke-width="1.7"/>
<rect x="493.60" y="1043.20" width="29.3" height="55.8" fill="#b5b5ff"/>
<rect x="524.40" y="1043.20" width="29.9" height="55.8" fill="#ffe0e0"/>
<rect x="710.05" y="952.45" width="67.3" height="59.9" rx="2" fill="#fff" stroke="#b714b8" stroke-width="1.7"/>
<rect x="712.80" y="954.20" width="29.3" height="55.8" fill="#ffd1d1"/>
<rect x="743.60" y="954.20" width="29.9" height="55.8" fill="#c4c4ff"/>
<rect x="819.85" y="952.45" width="67.3" height="59.9" rx="2" fill="#fff" stroke="#b714b8" stroke-width="1.7"/>
<rect x="822.60" y="954.20" width="29.3" height="55.8" fill="#ffabab"/>
<rect x="853.40" y="954.20" width="29.9" height="55.8" fill="#ffd9d9"/>
<rect x="710.05" y="1021.65" width="67.3" height="59.9" rx="2" fill="#fff" stroke="#b714b8" stroke-width="1.7"/>
<rect x="712.80" y="1023.40" width="29.3" height="55.8" fill="#e0e0ff"/>
<rect x="743.60" y="1023.40" width="29.9" height="55.8" fill="#ff9191"/>
<rect x="819.85" y="1021.65" width="67.3" height="59.9" rx="2" fill="#fff" stroke="#b714b8" stroke-width="1.7"/>
<rect x="822.60" y="1023.40" width="29.3" height="55.8" fill="#ffa1a1"/>
<rect x="853.40" y="1023.40" width="29.9" height="55.8" fill="#ffe0e0"/>
<circle cx="634.6" cy="1027.1" r="15.0" fill="#c8c8c8" stroke="#b714b8" stroke-width="1.7"/>
<rect x="400.95" y="1136.85" width="67.3" height="59.9" rx="2" fill="#fff" stroke="#f58a8c" stroke-width="1.7"/>
<rect x="403.70" y="1138.60" width="29.3" height="55.8" fill="#b0b0ff"/>
<rect x="434.50" y="1138.60" width="29.9" height="55.8" fill="#e6e6ff"/>
<rect x="494.65" y="1136.85" width="67.3" height="59.9" rx="2" fill="#fff" stroke="#f58a8c" stroke-width="1.7"/>
<rect x="497.40" y="1138.60" width="29.3" height="55.8" fill="#ffe8e8"/>
<rect x="528.20" y="1138.60" width="29.9" height="55.8" fill="#bdbdff"/>
<circle cx="634.6" cy="1166.9" r="15.0" fill="#c8c8c8" stroke="#f58a8c" stroke-width="1.7"/>
<rect x="495.05" y="1219.65" width="67.3" height="59.9" rx="2" fill="#fff" stroke="#9c9cf2" stroke-width="1.7"/>
<rect x="497.80" y="1221.40" width="29.3" height="55.8" fill="#5c5cff"/>
<rect x="528.60" y="1221.40" width="29.9" height="55.8" fill="#ffabab"/>
<rect x="495.75" y="1287.65" width="67.3" height="59.9" rx="2" fill="#fff" stroke="#9c9cf2" stroke-width="1.7"/>
<rect x="498.50" y="1289.40" width="29.3" height="55.8" fill="#6b6bff"/>
<rect x="529.30" y="1289.40" width="29.9" height="55.8" fill="#ffc4c4"/>
<circle cx="634.6" cy="1293.4" r="15.0" fill="#c8c8c8" stroke="#9c9cf2" stroke-width="1.7"/>
<rect x="691.65" y="1265.05" width="67.3" height="59.9" rx="2" fill="#fff" stroke="#9c9cf2" stroke-width="1.7"/>
<rect x="694.40" y="1266.80" width="29.3" height="55.8" fill="#9494ff"/>
<rect x="725.20" y="1266.80" width="29.9" height="55.8" fill="#ffb0b0"/>
<rect x="828.75" y="1119.85" width="67.3" height="59.9" rx="2" fill="#fff" stroke="#e2142d" stroke-width="1.7"/>
<rect x="831.50" y="1121.60" width="29.3" height="55.8" fill="#e8e8ff"/>
<rect x="862.30" y="1121.60" width="29.9" height="55.8" fill="#ffa1a1"/>
<rect x="831.05" y="1191.85" width="67.3" height="59.9" rx="2" fill="#fff" stroke="#e2142d" stroke-width="1.7"/>
<rect x="833.80" y="1193.60" width="29.3" height="55.8" fill="#ff8c8c"/>
<rect x="864.60" y="1193.60" width="29.9" height="55.8" fill="#d1d1ff"/>
<rect x="831.05" y="1258.25" width="67.3" height="59.9" rx="2" fill="#fff" stroke="#e2142d" stroke-width="1.7"/>
<rect x="833.80" y="1260.00" width="29.3" height="55.8" fill="#ffe8e8"/>
<rect x="864.60" y="1260.00" width="29.9" height="55.8" fill="#ff9c9c"/>
<rect x="828.75" y="1350.15" width="67.3" height="59.9" rx="2" fill="#fff" stroke="#e2142d" stroke-width="1.7"/>
<rect x="831.50" y="1351.90" width="29.3" height="55.8" fill="#ff6161"/>
<rect x="862.30" y="1351.90" width="29.9" height="55.8" fill="#b0b0ff"/>
<rect x="924.35" y="1350.15" width="67.3" height="59.9" rx="2" fill="#fff" stroke="#e2142d" stroke-width="1.7"/>
<rect x="927.10" y="1351.90" width="29.3" height="55.8" fill="#ff4545"/>
<rect x="957.90" y="1351.90" width="29.9" height="55.8" fill="#6363ff"/>
<rect x="828.75" y="1423.05" width="67.3" height="59.9" rx="2" fill="#fff" stroke="#e2142d" stroke-width="1.7"/>
<rect x="831.50" y="1424.80" width="29.3" height="55.8" fill="#b5b5ff"/>
<rect x="862.30" y="1424.80" width="29.9" height="55.8" fill="#ffabab"/>
<rect x="828.75" y="1490.35" width="67.3" height="59.9" rx="2" fill="#fff" stroke="#e2142d" stroke-width="1.7"/>
<rect x="831.50" y="1492.10" width="29.3" height="55.8" fill="#ffc4c4"/>
<rect x="862.30" y="1492.10" width="29.9" height="55.8" fill="#ffa6a6"/>
<rect x="828.75" y="1557.75" width="67.3" height="59.9" rx="2" fill="#fff" stroke="#e2142d" stroke-width="1.7"/>
<rect x="831.50" y="1559.50" width="29.3" height="55.8" fill="#ff9494"/>
<rect x="862.30" y="1559.50" width="29.9" height="55.8" fill="#dbdbff"/>
<rect x="828.75" y="1625.75" width="67.3" height="59.9" rx="2" fill="#fff" stroke="#e2142d" stroke-width="1.7"/>
<rect x="831.50" y="1627.50" width="29.3" height="55.8" fill="#ff7d7d"/>
<rect x="862.30" y="1627.50" width="29.9" height="55.8" fill="#dbdbff"/>
<rect x="557.05" y="1371.05" width="67.3" height="59.9" rx="2" fill="#fff" stroke="#e2142d" stroke-width="1.7"/>
<rect x="559.80" y="1372.80" width="29.3" height="55.8" fill="#9c9cff"/>
<rect x="590.60" y="1372.80" width="29.9" height="55.8" fill="#ffbaba"/>
<rect x="600.65" y="1499.95" width="67.3" height="59.9" rx="2" fill="#fff" stroke="#e2142d" stroke-width="1.7"/>
<rect x="603.40" y="1501.70" width="29.3" height="55.8" fill="#9191ff"/>
<rect x="634.20" y="1501.70" width="29.9" height="55.8" fill="#e0e0ff"/>
<rect x="270.95" y="1161.85" width="67.3" height="59.9" rx="2" fill="#fff" stroke="#e2142d" stroke-width="1.7"/>
<rect x="273.70" y="1163.60" width="29.3" height="55.8" fill="#d1d1ff"/>
<rect x="304.50" y="1163.60" width="29.9" height="55.8" fill="#ff9494"/>
<rect x="270.95" y="1229.85" width="67.3" height="59.9" rx="2" fill="#fff" stroke="#e2142d" stroke-width="1.7"/>
<rect x="273.70" y="1231.60" width="29.3" height="55.8" fill="#7070ff"/>
<rect x="304.50" y="1231.60" width="29.9" height="55.8" fill="#ff2929"/>
<rect x="270.95" y="1295.25" width="67.3" height="59.9" rx="2" fill="#fff" stroke="#e2142d" stroke-width="1.7"/>
<rect x="273.70" y="1297.00" width="29.3" height="55.8" fill="#ccccff"/>
<rect x="304.50" y="1297.00" width="29.9" height="55.8" fill="#ffbfbf"/>
<rect x="270.95" y="1362.95" width="67.3" height="59.9" rx="2" fill="#fff" stroke="#e2142d" stroke-width="1.7"/>
<rect x="273.70" y="1364.70" width="29.3" height="55.8" fill="#a1a1ff"/>
<rect x="304.50" y="1364.70" width="29.9" height="55.8" fill="#ffa3a3"/>
<rect x="270.95" y="1432.45" width="67.3" height="59.9" rx="2" fill="#fff" stroke="#e2142d" stroke-width="1.7"/>
<rect x="273.70" y="1434.20" width="29.3" height="55.8" fill="#d9d9ff"/>
<rect x="304.50" y="1434.20" width="29.9" height="55.8" fill="#ff9494"/>
<rect x="170.65" y="1528.75" width="67.3" height="59.9" rx="2" fill="#fff" stroke="#e2142d" stroke-width="1.7"/>
<rect x="173.40" y="1530.50" width="29.3" height="55.8" fill="#a8a8ff"/>
<rect x="204.20" y="1530.50" width="29.9" height="55.8" fill="#ff8c8c"/>
<rect x="263.95" y="1528.75" width="67.3" height="59.9" rx="2" fill="#fff" stroke="#e2142d" stroke-width="1.7"/>
<rect x="266.70" y="1530.50" width="29.3" height="55.8" fill="#ff7070"/>
<rect x="297.50" y="1530.50" width="29.9" height="55.8" fill="#ccccff"/>
<rect x="263.95" y="1594.85" width="67.3" height="59.9" rx="2" fill="#fff" stroke="#e2142d" stroke-width="1.7"/>
<rect x="266.70" y="1596.60" width="29.3" height="55.8" fill="#ffbfbf"/>
<rect x="297.50" y="1596.60" width="29.9" height="55.8" fill="#d1d1ff"/>
<rect x="263.95" y="1662.85" width="67.3" height="59.9" rx="2" fill="#fff" stroke="#e2142d" stroke-width="1.7"/>
<rect x="266.70" y="1664.60" width="29.3" height="55.8" fill="#e6e6ff"/>
<rect x="297.50" y="1664.60" width="29.9" height="55.8" fill="#ffeded"/>
<rect x="263.95" y="1730.65" width="67.3" height="59.9" rx="2" fill="#fff" stroke="#e2142d" stroke-width="1.7"/>
<rect x="266.70" y="1732.40" width="29.3" height="55.8" fill="#ffc4c4"/>
<rect x="297.50" y="1732.40" width="29.9" height="55.8" fill="#fff5f5"/>
<rect x="380.95" y="1603.85" width="67.3" height="59.9" rx="2" fill="#fff" stroke="#e2142d" stroke-width="1.7"/>
<rect x="383.70" y="1605.60" width="29.3" height="55.8" fill="#ffbfbf"/>
<rect x="414.50" y="1605.60" width="29.9" height="55.8" fill="#c4c4ff"/>
<rect x="271.75" y="1852.75" width="67.3" height="59.9" rx="2" fill="#fff" stroke="#e2142d" stroke-width="1.7"/>
<rect x="274.50" y="1854.50" width="29.3" height="55.8" fill="#ffd1d1"/>
<rect x="305.30" y="1854.50" width="29.9" height="55.8" fill="#ffb0b0"/>
<rect x="355.15" y="1850.45" width="67.3" height="59.9" rx="2" fill="#fff" stroke="#e2142d" stroke-width="1.7"/>
<rect x="357.90" y="1852.20" width="29.3" height="55.8" fill="#ff8787"/>
<rect x="388.70" y="1852.20" width="29.9" height="55.8" fill="#ffa3a3"/>
<rect x="445.55" y="1846.55" width="67.3" height="59.9" rx="2" fill="#fff" stroke="#e2142d" stroke-width="1.7"/>
<rect x="448.30" y="1848.30" width="29.3" height="55.8" fill="#b8b8ff"/>
<rect x="479.10" y="1848.30" width="29.9" height="55.8" fill="#ffbdbd"/>
<rect x="539.95" y="1844.85" width="67.3" height="59.9" rx="2" fill="#fff" stroke="#e2142d" stroke-width="1.7"/>
<rect x="542.70" y="1846.60" width="29.3" height="55.8" fill="#9999ff"/>
<rect x="573.50" y="1846.60" width="29.9" height="55.8" fill="#ff9999"/>
<rect x="630.35" y="1843.55" width="67.3" height="59.9" rx="2" fill="#fff" stroke="#e2142d" stroke-width="1.7"/>
<rect x="633.10" y="1845.30" width="29.3" height="55.8" fill="#8f8fff"/>
<rect x="663.90" y="1845.30" width="29.9" height="55.8" fill="#ff6161"/>
<rect x="724.65" y="1845.05" width="67.3" height="59.9" rx="2" fill="#fff" stroke="#e2142d" stroke-width="1.7"/>
<rect x="727.40" y="1846.80" width="29.3" height="55.8" fill="#a3a3ff"/>
<rect x="758.20" y="1846.80" width="29.9" height="55.8" fill="#ffb0b0"/>
<rect x="830.25" y="1846.25" width="67.3" height="59.9" rx="2" fill="#fff" stroke="#e2142d" stroke-width="1.7"/>
<rect x="833.00" y="1848.00" width="29.3" height="55.8" fill="#6363ff"/>
<rect x="863.80" y="1848.00" width="29.9" height="55.8" fill="#ff8c8c"/>
<rect x="919.05" y="1845.05" width="67.3" height="59.9" rx="2" fill="#fff" stroke="#e2142d" stroke-width="1.7"/>
<rect x="921.80" y="1846.80" width="29.3" height="55.8" fill="#0000ff"/>
<rect x="952.60" y="1846.80" width="29.9" height="55.8" fill="#ff0000"/>
<rect x="1016.75" y="1846.25" width="67.3" height="59.9" rx="2" fill="#fff" stroke="#e2142d" stroke-width="1.7"/>
<rect x="1019.50" y="1848.00" width="29.3" height="55.8" fill="#ffd4d4"/>
<rect x="1050.30" y="1848.00" width="29.9" height="55.8" fill="#ff8080"/>
<rect x="271.75" y="1946.75" width="67.3" height="59.9" rx="2" fill="#fff" stroke="#e2142d" stroke-width="1.7"/>
<rect x="274.50" y="1948.50" width="29.3" height="55.8" fill="#8585ff"/>
<rect x="305.30" y="1948.50" width="29.9" height="55.8" fill="#ffabab"/>
<rect x="445.85" y="1961.95" width="67.3" height="59.9" rx="2" fill="#fff" stroke="#e2142d" stroke-width="1.7"/>
<rect x="448.60" y="1963.70" width="29.3" height="55.8" fill="#b5b5ff"/>
<rect x="479.40" y="1963.70" width="29.9" height="55.8" fill="#ffa3a3"/>
<rect x="539.95" y="1963.25" width="67.3" height="59.9" rx="2" fill="#fff" stroke="#e2142d" stroke-width="1.7"/>
<rect x="542.70" y="1965.00" width="29.3" height="55.8" fill="#8787ff"/>
<rect x="573.50" y="1965.00" width="29.9" height="55.8" fill="#ff9494"/>
<rect x="449.55" y="2055.95" width="67.3" height="59.9" rx="2" fill="#fff" stroke="#e2142d" stroke-width="1.7"/>
<rect x="452.30" y="2057.70" width="29.3" height="55.8" fill="#8787ff"/>
<rect x="483.10" y="2057.70" width="29.9" height="55.8" fill="#ffabab"/>
<rect x="724.65" y="1957.65" width="67.3" height="59.9" rx="2" fill="#fff" stroke="#e2142d" stroke-width="1.7"/>
<rect x="727.40" y="1959.40" width="29.3" height="55.8" fill="#ffb5b5"/>
<rect x="758.20" y="1959.40" width="29.9" height="55.8" fill="#ffd9d9"/>
<rect x="831.75" y="1956.05" width="67.3" height="59.9" rx="2" fill="#fff" stroke="#e2142d" stroke-width="1.7"/>
<rect x="834.50" y="1957.80" width="29.3" height="55.8" fill="#ff8c8c"/>
<rect x="865.30" y="1957.80" width="29.9" height="55.8" fill="#ff8787"/>
<rect x="923.05" y="1957.65" width="67.3" height="59.9" rx="2" fill="#fff" stroke="#e2142d" stroke-width="1.7"/>
<rect x="925.80" y="1959.40" width="29.3" height="55.8" fill="#1c1cff"/>
<rect x="956.60" y="1959.40" width="29.9" height="55.8" fill="#ff4545"/>
<rect x="1016.15" y="1957.65" width="67.3" height="59.9" rx="2" fill="#fff" stroke="#e2142d" stroke-width="1.7"/>
<rect x="1018.90" y="1959.40" width="29.3" height="55.8" fill="#0505ff"/>
<rect x="1049.70" y="1959.40" width="29.9" height="55.8" fill="#ff1c1c"/>
<rect x="923.05" y="2055.95" width="67.3" height="59.9" rx="2" fill="#fff" stroke="#e2142d" stroke-width="1.7"/>
<rect x="925.80" y="2057.70" width="29.3" height="55.8" fill="#3030ff"/>
<rect x="956.60" y="2057.70" width="29.9" height="55.8" fill="#ff1919"/>
<rect x="1289.25" y="941.35" width="67.3" height="59.9" rx="2" fill="#fff" stroke="#f0991e" stroke-width="1.7"/>
<rect x="1292.00" y="943.10" width="29.3" height="55.8" fill="#ccccff"/>
<rect x="1322.80" y="943.10" width="29.9" height="55.8" fill="#ff9494"/>
<rect x="1289.25" y="1031.55" width="67.3" height="59.9" rx="2" fill="#fff" stroke="#f0991e" stroke-width="1.7"/>
<rect x="1292.00" y="1033.30" width="29.3" height="55.8" fill="#5959ff"/>
<rect x="1322.80" y="1033.30" width="29.9" height="55.8" fill="#ff7070"/>
<circle cx="1442" cy="1061.4" r="15.0" fill="#c8c8c8" stroke="#f0991e" stroke-width="1.7"/>
<rect x="1290.65" y="1105.55" width="67.3" height="59.9" rx="2" fill="#fff" stroke="#20bc20" stroke-width="1.7"/>
<rect x="1293.40" y="1107.30" width="29.3" height="55.8" fill="#a1a1ff"/>
<rect x="1324.20" y="1107.30" width="29.9" height="55.8" fill="#ff7878"/>
<rect x="1286.95" y="1173.35" width="67.3" height="59.9" rx="2" fill="#fff" stroke="#20bc20" stroke-width="1.7"/>
<rect x="1289.70" y="1175.10" width="29.3" height="55.8" fill="#ff6b6b"/>
<rect x="1320.50" y="1175.10" width="29.9" height="55.8" fill="#a8a8ff"/>
<rect x="1286.95" y="1241.05" width="67.3" height="59.9" rx="2" fill="#fff" stroke="#20bc20" stroke-width="1.7"/>
<rect x="1289.70" y="1242.80" width="29.3" height="55.8" fill="#4f4fff"/>
<rect x="1320.50" y="1242.80" width="29.9" height="55.8" fill="#ff6b6b"/>
<rect x="1286.95" y="1308.85" width="67.3" height="59.9" rx="2" fill="#fff" stroke="#20bc20" stroke-width="1.7"/>
<rect x="1289.70" y="1310.60" width="29.3" height="55.8" fill="#ffbdbd"/>
<rect x="1320.50" y="1310.60" width="29.9" height="55.8" fill="#ff8c8c"/>
<rect x="1408.15" y="1154.25" width="67.3" height="59.9" rx="2" fill="#fff" stroke="#20bc20" stroke-width="1.7"/>
<rect x="1410.90" y="1156.00" width="29.3" height="55.8" fill="#c9c9ff"/>
<rect x="1441.70" y="1156.00" width="29.9" height="55.8" fill="#ffeded"/>
<rect x="1542.75" y="1120.35" width="67.3" height="59.9" rx="2" fill="#fff" stroke="#20bc20" stroke-width="1.7"/>
<rect x="1545.50" y="1122.10" width="29.3" height="55.8" fill="#fafaff"/>
<rect x="1576.30" y="1122.10" width="29.9" height="55.8" fill="#ff7878"/>
<rect x="1542.75" y="1192.05" width="67.3" height="59.9" rx="2" fill="#fff" stroke="#20bc20" stroke-width="1.7"/>
<rect x="1545.50" y="1193.80" width="29.3" height="55.8" fill="#ffa8a8"/>
<rect x="1576.30" y="1193.80" width="29.9" height="55.8" fill="#ffd4d4"/>
<rect x="1542.75" y="1274.85" width="67.3" height="59.9" rx="2" fill="#fff" stroke="#2cc4c8" stroke-width="1.7"/>
<rect x="1545.50" y="1276.60" width="29.3" height="55.8" fill="#ff8787"/>
<rect x="1576.30" y="1276.60" width="29.9" height="55.8" fill="#ffbdbd"/>
<rect x="1542.75" y="1342.25" width="67.3" height="59.9" rx="2" fill="#fff" stroke="#2cc4c8" stroke-width="1.7"/>
<rect x="1545.50" y="1344.00" width="29.3" height="55.8" fill="#ffb5b5"/>
<rect x="1576.30" y="1344.00" width="29.9" height="55.8" fill="#ffb8b8"/>
<rect x="1542.75" y="1409.25" width="67.3" height="59.9" rx="2" fill="#fff" stroke="#2cc4c8" stroke-width="1.7"/>
<rect x="1545.50" y="1411.00" width="29.3" height="55.8" fill="#ff6969"/>
<rect x="1576.30" y="1411.00" width="29.9" height="55.8" fill="#a8a8ff"/>
<rect x="1542.75" y="1477.25" width="67.3" height="59.9" rx="2" fill="#fff" stroke="#2cc4c8" stroke-width="1.7"/>
<rect x="1545.50" y="1479.00" width="29.3" height="55.8" fill="#ff6161"/>
<rect x="1576.30" y="1479.00" width="29.9" height="55.8" fill="#a1a1ff"/>
<rect x="1542.75" y="1541.35" width="67.3" height="59.9" rx="2" fill="#fff" stroke="#2cc4c8" stroke-width="1.7"/>
<rect x="1545.50" y="1543.10" width="29.3" height="55.8" fill="#ffc4c4"/>
<rect x="1576.30" y="1543.10" width="29.9" height="55.8" fill="#ffeded"/>
<rect x="1542.75" y="1608.55" width="67.3" height="59.9" rx="2" fill="#fff" stroke="#2cc4c8" stroke-width="1.7"/>
<rect x="1545.50" y="1610.30" width="29.3" height="55.8" fill="#ff6363"/>
<rect x="1576.30" y="1610.30" width="29.9" height="55.8" fill="#a1a1ff"/>
<rect x="1542.75" y="1706.25" width="67.3" height="59.9" rx="2" fill="#fff" stroke="#2cc4c8" stroke-width="1.7"/>
<rect x="1545.50" y="1708.00" width="29.3" height="55.8" fill="#ffd1d1"/>
<rect x="1576.30" y="1708.00" width="29.9" height="55.8" fill="#ffc4c4"/>
<rect x="1543.15" y="1796.75" width="67.3" height="59.9" rx="2" fill="#fff" stroke="#2cc4c8" stroke-width="1.7"/>
<rect x="1545.90" y="1798.50" width="29.3" height="55.8" fill="#c9c9ff"/>
<rect x="1576.70" y="1798.50" width="29.9" height="55.8" fill="#ffeded"/>
<rect x="1543.15" y="1881.85" width="67.3" height="59.9" rx="2" fill="#fff" stroke="#2cc4c8" stroke-width="1.7"/>
<rect x="1545.90" y="1883.60" width="29.3" height="55.8" fill="#ff9c9c"/>
<rect x="1576.70" y="1883.60" width="29.9" height="55.8" fill="#ffd9d9"/>
<rect x="1411.85" y="1494.85" width="67.3" height="59.9" rx="2" fill="#fff" stroke="#2cc4c8" stroke-width="1.7"/>
<rect x="1414.60" y="1496.60" width="29.3" height="55.8" fill="#ffb0b0"/>
<rect x="1445.40" y="1496.60" width="29.9" height="55.8" fill="#b0b0ff"/>
<rect x="1655.05" y="1765.05" width="67.3" height="59.9" rx="2" fill="#fff" stroke="#2cc4c8" stroke-width="1.7"/>
<rect x="1657.80" y="1766.80" width="29.3" height="55.8" fill="#3d3dff"/>
<rect x="1688.60" y="1766.80" width="29.9" height="55.8" fill="#ff4747"/>
<polygon points="1209.7,1320.0 1217.7,1304.7 1236.1,1304.7 1244.1,1320.0 1236.1,1335.3 1217.7,1335.3" fill="#c8c8c8" stroke="#20bc20" stroke-width="1.4"/>
<polygon points="1209.7,1353.8 1217.7,1338.5 1236.1,1338.5 1244.1,1353.8 1236.1,1369.1 1217.7,1369.1" fill="#c8c8c8" stroke="#20bc20" stroke-width="1.4"/>
<polygon points="1652.3,1636.7 1660.3,1621.4 1678.7,1621.4 1686.7,1636.7 1678.7,1652.0 1660.3,1652.0" fill="#c8c8c8" stroke="#2cc4c8" stroke-width="1.4"/>
<polygon points="1652.5,1847.6 1660.5,1832.3 1678.9,1832.3 1686.9,1847.6 1678.9,1862.9 1660.5,1862.9" fill="#c8c8c8" stroke="#2cc4c8" stroke-width="1.4"/>
<polygon points="1652.5,1885.6 1660.5,1870.3 1678.9,1870.3 1686.9,1885.6 1678.9,1900.9 1660.5,1900.9" fill="#c8c8c8" stroke="#2cc4c8" stroke-width="1.4"/>
<polygon points="1652.5,1919.5 1660.5,1904.2 1678.9,1904.2 1686.9,1919.5 1678.9,1934.8 1660.5,1934.8" fill="#c8c8c8" stroke="#2cc4c8" stroke-width="1.4"/>
<polygon points="1652.5,1954.9 1660.5,1939.6 1678.9,1939.6 1686.9,1954.9 1678.9,1970.2 1660.5,1970.2" fill="#c8c8c8" stroke="#2cc4c8" stroke-width="1.4"/>
<rect x="182.85" y="2248.85" width="67.3" height="59.9" rx="2" fill="#fff" stroke="#f28ff2" stroke-width="1.7"/>
<rect x="185.60" y="2250.60" width="29.3" height="55.8" fill="#ff9999"/>
<rect x="216.40" y="2250.60" width="29.9" height="55.8" fill="#ffbdbd"/>
<rect x="280.65" y="2248.85" width="67.3" height="59.9" rx="2" fill="#fff" stroke="#f28ff2" stroke-width="1.7"/>
<rect x="283.40" y="2250.60" width="29.3" height="55.8" fill="#0000ff"/>
<rect x="314.20" y="2250.60" width="29.9" height="55.8" fill="#ff7d7d"/>
<rect x="382.85" y="2248.85" width="67.3" height="59.9" rx="2" fill="#fff" stroke="#4a4a4a" stroke-width="1.7"/>
<rect x="385.60" y="2250.60" width="29.3" height="55.8" fill="#9c9cff"/>
<rect x="416.40" y="2250.60" width="29.9" height="55.8" fill="#f0f0ff"/>
<rect x="484.15" y="2248.85" width="67.3" height="59.9" rx="2" fill="#fff" stroke="#4a4a4a" stroke-width="1.7"/>
<rect x="486.90" y="2250.60" width="29.3" height="55.8" fill="#ff7d7d"/>
<rect x="517.70" y="2250.60" width="29.9" height="55.8" fill="#ffa3a3"/>
<path d="M620.2 1020.0L567.4 994.0M619.7 1033.1L567.6 1054.1M649.5 1021.0L700.6 1000.0M650.3 1030.6L700.3 1041.9M489.2 972.9L474.0 972.9M489.2 1071.4L474.0 1071.4M779.0 982.4L810.0 982.4M779.0 1051.6L810.0 1051.6M634.6 1043.2L634.6 1142.6M618.5 1166.9L571.8 1166.8M493.0 1166.8L478.1 1166.8M634.6 1183.0L634.6 1269.1M619.7 1287.2L571.7 1267.4M618.9 1297.0L572.7 1307.6M650.7 1293.7L681.8 1294.2M634.6 1309.5L634.4 1490.1M604.1 1440.5L620.9 1490.4M653.3 1498.3L839.0 1188.7M657.9 1498.3L835.8 1260.4M664.4 1498.3L828.3 1326.3M669.6 1506.7L819.9 1408.0M669.6 1518.0L819.2 1467.6M669.6 1528.4L818.9 1522.1M669.6 1538.8L819.1 1576.7M669.6 1549.4L819.6 1632.1M603.5 1498.3L341.7 1229.9M599.0 1501.0L346.7 1294.3M599.0 1508.0L347.2 1351.6M599.0 1515.2L347.6 1410.8M599.0 1522.7L348.0 1471.3M599.0 1532.9L341.1 1555.0M599.0 1539.8L340.9 1612.6M599.0 1546.6L457.5 1613.5M599.0 1554.1L340.0 1731.5M604.8 1561.5L341.0 1844.5M620.2 1561.5L496.8 1837.2M628.7 1561.5L580.6 1835.1M645.7 1561.5L744.1 1835.6M655.3 1561.5L838.2 1837.4M663.5 1561.5L917.4 1836.8M669.6 1559.3L1008.3 1841.2M897.7 1380.1L914.5 1380.1M262.3 1558.7L247.8 1558.7M379.3 1651.6L340.5 1671.2M305.4 1914.3L305.4 1936.9M443.9 1878.0L432.3 1878.5M479.3 1908.1L479.4 1952.1M480.7 2023.5L481.6 2046.1M573.6 1906.4L573.6 1953.4M723.0 1874.4L707.5 1874.2M758.3 1906.6L758.3 1947.8M864.3 1907.8L864.9 1946.2M988.0 1875.4L1006.9 1875.7M953.8 1906.6L955.3 1947.8M980.0 1906.6L1016.7 1949.3M956.7 2019.2L956.7 2046.1M1429.2 1051.7L1365.2 1003.3M1425.9 1061.4L1366.4 1061.5M1442.0 1077.5L1441.9 1144.4M1406.5 1169.6L1367.3 1153.3M1406.5 1189.8L1364.0 1196.5M1406.5 1209.5L1363.0 1240.7M1417.0 1215.8L1350.8 1300.3M1477.1 1175.3L1533.1 1161.2M1477.1 1194.1L1533.1 1209.8M1442.1 1215.8L1445.1 1485.0M1285.3 1331.7L1251.3 1324.9M1285.3 1344.5L1251.7 1349.8M1464.3 1493.2L1553.2 1343.8M1472.6 1493.2L1543.5 1410.6M1480.8 1501.7L1533.9 1467.0M1480.8 1520.1L1533.0 1513.0M1480.8 1537.3L1533.2 1556.0M1480.8 1555.5L1534.4 1602.0M1465.1 1556.4L1552.3 1697.3M1459.2 1556.4L1559.7 1787.4M1456.2 1556.4L1563.4 1872.3M1611.7 1637.8L1643.5 1637.2M1612.1 1816.7L1645.4 1807.3M1612.1 1834.6L1645.5 1842.2M1612.1 1849.1L1649.2 1872.6M1608.4 1858.3L1652.0 1901.9M1599.7 1858.3L1654.4 1933.8M251.8 2278.8L270.8 2278.8" stroke="#646464" stroke-width="2.0" fill="none"/>
<path d="M562.0 991.4L573.9 992.1L569.0 994.8L569.8 1000.3ZM562.0 1056.3L570.5 1047.9L569.2 1053.4L573.9 1056.5ZM706.2 997.8L697.8 1006.2L699.0 1000.7L694.3 997.7ZM706.2 1043.2L694.5 1045.3L698.6 1041.5L696.5 1036.3ZM468.0 972.9L479.0 968.3L475.8 972.9L479.0 977.5ZM468.0 1071.4L479.0 1066.8L475.8 1071.4L479.0 1076.0ZM816.0 982.4L805.0 987.0L808.2 982.4L805.0 977.8ZM816.0 1051.6L805.0 1056.2L808.2 1051.6L805.0 1047.0ZM634.6 1148.6L630.0 1137.6L634.6 1140.8L639.2 1137.6ZM565.8 1166.8L576.8 1162.2L573.6 1166.8L576.8 1171.4ZM472.1 1166.8L483.1 1162.2L479.9 1166.8L483.1 1171.4ZM634.6 1275.1L630.0 1264.1L634.6 1267.3L639.2 1264.1ZM566.2 1265.1L578.1 1265.1L573.4 1268.1L574.6 1273.6ZM566.9 1309.0L576.6 1302.0L574.5 1307.2L578.7 1311.0ZM687.8 1294.3L676.7 1298.7L680.0 1294.2L676.9 1289.5ZM634.3 1496.1L629.8 1485.1L634.4 1488.3L639.0 1485.1ZM622.9 1496.1L615.0 1487.2L620.4 1488.7L623.7 1484.2ZM602.1 1434.8L610.0 1443.7L604.6 1442.2L601.3 1446.7ZM842.1 1183.6L840.4 1195.4L838.1 1190.3L832.5 1190.7ZM839.4 1255.6L836.5 1267.2L834.8 1261.8L829.2 1261.7ZM832.5 1322.0L828.2 1333.1L827.1 1327.6L821.6 1326.8ZM824.9 1404.7L818.2 1414.6L818.4 1409.0L813.2 1406.9ZM824.9 1465.6L815.9 1473.5L817.5 1468.1L813.0 1464.8ZM824.9 1521.9L814.1 1526.9L817.1 1522.2L813.7 1517.7ZM824.9 1578.2L813.1 1580.0L817.3 1576.3L815.4 1571.0ZM824.9 1635.0L813.0 1633.7L818.1 1631.3L817.5 1625.7ZM337.6 1225.6L348.5 1230.3L343.0 1231.2L341.9 1236.7ZM342.1 1290.5L353.5 1293.9L348.1 1295.5L347.7 1301.1ZM342.1 1348.5L353.9 1350.4L348.7 1352.6L349.0 1358.2ZM342.1 1408.5L354.0 1408.5L349.3 1411.5L350.5 1417.0ZM342.1 1470.1L353.8 1467.8L349.7 1471.6L352.0 1476.8ZM335.1 1555.5L345.7 1550.0L342.9 1554.8L346.5 1559.1ZM335.1 1614.2L344.4 1606.8L342.6 1612.1L346.9 1615.7ZM452.1 1616.1L460.1 1607.2L459.2 1612.7L464.0 1615.5ZM335.1 1734.9L341.6 1724.9L341.5 1730.5L346.8 1732.5ZM336.9 1848.9L341.0 1837.7L342.2 1843.2L347.8 1844.0ZM494.3 1842.7L494.6 1830.8L497.5 1835.6L503.0 1834.5ZM579.5 1841.0L576.9 1829.4L580.9 1833.3L586.0 1831.0ZM746.2 1841.2L738.1 1832.4L743.5 1833.9L746.8 1829.3ZM841.5 1842.4L831.6 1835.8L837.2 1835.9L839.2 1830.7ZM921.5 1841.2L910.7 1836.2L916.2 1835.5L917.4 1830.0ZM1012.9 1845.0L1001.5 1841.5L1006.9 1840.0L1007.4 1834.4ZM920.5 1380.1L909.5 1384.7L912.7 1380.1L909.5 1375.5ZM241.8 1558.7L252.8 1554.1L249.6 1558.7L252.8 1563.3ZM335.1 1673.9L342.9 1664.8L342.1 1670.4L347.0 1673.0ZM305.4 1942.9L300.8 1931.9L305.4 1935.1L310.0 1931.9ZM426.3 1878.8L437.1 1873.7L434.1 1878.4L437.5 1882.9ZM479.4 1958.1L474.8 1947.1L479.4 1950.3L484.0 1947.1ZM481.9 2052.1L476.8 2041.3L481.6 2044.3L486.0 2040.9ZM573.6 1959.4L569.0 1948.4L573.6 1951.6L578.2 1948.4ZM701.5 1874.1L712.6 1869.7L709.3 1874.2L712.4 1878.9ZM758.3 1953.8L753.7 1942.8L758.3 1946.0L762.9 1942.8ZM864.9 1952.2L860.2 1941.3L864.8 1944.4L869.4 1941.1ZM1012.9 1875.7L1001.8 1880.2L1005.1 1875.6L1002.0 1871.0ZM955.5 1953.8L950.5 1943.0L955.2 1946.0L959.7 1942.6ZM1020.7 1953.8L1010.0 1948.5L1015.6 1947.9L1017.0 1942.5ZM956.7 2052.1L952.1 2041.1L956.7 2044.3L961.3 2041.1ZM1360.4 999.7L1371.9 1002.6L1366.6 1004.4L1366.4 1010.0ZM1360.4 1061.5L1371.4 1056.9L1368.2 1061.5L1371.4 1066.1ZM1441.9 1150.4L1437.3 1139.4L1441.9 1142.6L1446.5 1139.4ZM1361.8 1151.0L1373.7 1151.0L1369.0 1154.0L1370.2 1159.5ZM1358.1 1197.4L1368.2 1191.1L1365.8 1196.2L1369.7 1200.2ZM1358.1 1244.1L1364.4 1234.0L1364.4 1239.6L1369.7 1241.5ZM1347.1 1305.0L1350.3 1293.5L1351.9 1298.9L1357.5 1299.2ZM1538.9 1159.7L1529.4 1166.9L1531.3 1161.6L1527.1 1158.0ZM1538.9 1211.5L1527.1 1212.9L1531.4 1209.4L1529.6 1204.1ZM1445.1 1491.0L1440.4 1480.1L1445.0 1483.2L1449.6 1480.0ZM1245.4 1323.7L1257.1 1321.4L1253.1 1325.2L1255.3 1330.4ZM1245.7 1350.8L1255.9 1344.5L1253.4 1349.6L1257.3 1353.6ZM1556.3 1338.6L1554.6 1350.4L1552.3 1345.3L1546.7 1345.7ZM1547.4 1406.0L1543.7 1417.3L1542.3 1411.9L1536.8 1411.4ZM1538.9 1463.7L1532.2 1473.6L1532.4 1468.0L1527.2 1465.9ZM1538.9 1512.2L1528.6 1518.3L1531.2 1513.3L1527.4 1509.1ZM1538.9 1558.0L1527.0 1558.6L1531.5 1555.4L1530.1 1550.0ZM1538.9 1605.9L1527.6 1602.2L1533.0 1600.8L1533.6 1595.2ZM1555.5 1702.4L1545.8 1695.5L1551.4 1695.8L1553.6 1690.6ZM1562.1 1792.9L1553.5 1784.6L1559.0 1785.7L1561.9 1781.0ZM1565.3 1878.0L1557.4 1869.1L1562.8 1870.6L1566.2 1866.1ZM1649.5 1637.1L1638.6 1641.9L1641.7 1637.2L1638.4 1632.7ZM1651.2 1805.6L1641.9 1813.0L1643.7 1807.7L1639.4 1804.2ZM1651.4 1843.5L1639.6 1845.6L1643.8 1841.8L1641.7 1836.6ZM1654.2 1875.8L1642.5 1873.8L1647.7 1871.6L1647.4 1866.0ZM1656.3 1906.1L1645.2 1901.6L1650.8 1900.6L1651.7 1895.1ZM1657.9 1938.7L1647.8 1932.5L1653.4 1932.4L1655.2 1927.1ZM276.8 2278.8L265.8 2283.4L269.0 2278.8L265.8 2274.2Z" fill="#646464"/>
<text x="491.2" y="1260.0" font-size="35.1" textLength="35.7" lengthAdjust="spacingAndGlyphs" stroke="#000" stroke-width="0.9">##</text>
<text x="502.4" y="1326.1" font-size="35.1" textLength="18.3" lengthAdjust="spacingAndGlyphs" stroke="#000" stroke-width="0.9">#</text>
<text x="837.1" y="1661.8" font-size="34.0" textLength="18.3" lengthAdjust="spacingAndGlyphs" stroke="#000" stroke-width="0.9">#</text>
<text x="554.2" y="1408.6" font-size="34.0" textLength="37.4" lengthAdjust="spacingAndGlyphs" stroke="#000" stroke-width="0.9">##</text>
<text x="321.1" y="1214.4" font-size="48.5" text-anchor="middle" stroke="#000" stroke-width="0.5">*</text>
<text x="256.0" y="1249.8" font-size="34.3" textLength="36.5" lengthAdjust="spacingAndGlyphs" stroke="#000" stroke-width="0.9">##</text>
<text x="319.9" y="1278.0" font-size="48.5" text-anchor="middle" stroke="#000" stroke-width="0.5">*</text>
<text x="264.7" y="1565.4" font-size="34.0" textLength="36.2" lengthAdjust="spacingAndGlyphs" stroke="#000" stroke-width="0.9">##</text>
<text x="545.5" y="1879.8" font-size="34.0" textLength="18.8" lengthAdjust="spacingAndGlyphs" stroke="#000" stroke-width="0.9">#</text>
<text x="590.9" y="1895.0" font-size="48.5" text-anchor="middle" stroke="#000" stroke-width="0.5">*</text>
<text x="678.6" y="1895.4" font-size="48.5" text-anchor="middle" stroke="#000" stroke-width="0.5">*</text>
<text x="881.0" y="1900.0" font-size="48.5" text-anchor="middle" stroke="#000" stroke-width="0.5">*</text>
<text x="1065.0" y="1897.8" font-size="48.5" text-anchor="middle" stroke="#000" stroke-width="0.5">*</text>
<text x="284.9" y="1986.7" font-size="32.7" textLength="18.8" lengthAdjust="spacingAndGlyphs" stroke="#000" stroke-width="0.9">#</text>
<text x="546.6" y="1998.2" font-size="33.1" textLength="18.8" lengthAdjust="spacingAndGlyphs" stroke="#000" stroke-width="0.9">#</text>
<text x="589.0" y="2013.2" font-size="48.5" text-anchor="middle" stroke="#000" stroke-width="0.5">*</text>
<text x="458.7" y="2093.4" font-size="33.1" textLength="18.8" lengthAdjust="spacingAndGlyphs" stroke="#000" stroke-width="0.9">#</text>
<text x="882.2" y="2007.4" font-size="48.5" text-anchor="middle" stroke="#000" stroke-width="0.5">*</text>
<text x="1278.4" y="1054.0" font-size="33.0" textLength="36.2" lengthAdjust="spacingAndGlyphs" stroke="#000" stroke-width="0.9">##</text>
<text x="1339.0" y="1151.7" font-size="48.5" text-anchor="middle" stroke="#000" stroke-width="0.5">*</text>
<text x="1363.5" y="1151.7" font-size="48.5" text-anchor="middle" stroke="#000" stroke-width="0.5">*</text>
<text x="1284.8" y="1280.2" font-size="34.3" textLength="36.3" lengthAdjust="spacingAndGlyphs" stroke="#000" stroke-width="0.9">##</text>
<text x="1592.5" y="1171.6" font-size="48.5" text-anchor="middle" stroke="#000" stroke-width="0.5">*</text>
<text x="1548.0" y="1314.9" font-size="34.3" textLength="18.7" lengthAdjust="spacingAndGlyphs" stroke="#000" stroke-width="0.9">#</text>
<text x="1639.2" y="1785.7" font-size="34.4" textLength="36.2" lengthAdjust="spacingAndGlyphs" stroke="#000" stroke-width="0.9">##</text>
<text x="1704.5" y="1815.8" font-size="48.5" text-anchor="middle" stroke="#000" stroke-width="0.5">*</text>
<text x="177.9" y="2282.2" font-size="34.6" textLength="37.3" lengthAdjust="spacingAndGlyphs" stroke="#000" stroke-width="0.9">##</text>
<text x="290.7" y="2282.2" font-size="34.6" textLength="18.5" lengthAdjust="spacingAndGlyphs" stroke="#000" stroke-width="0.9">#</text>
<text x="54.2" y="2394.4" font-size="36" textLength="88" lengthAdjust="spacingAndGlyphs">IVI/NI</text>
<text x="168.8" y="2394.4" font-size="36" textLength="161" lengthAdjust="spacingAndGlyphs">IVI+MT/IVI</text>
<defs><linearGradient id="lg" x1="0" x2="0" y1="0" y2="1"><stop offset="0" stop-color="#ff0000"/><stop offset="0.07" stop-color="#ff0808"/><stop offset="0.5" stop-color="#ffffff"/><stop offset="0.93" stop-color="#1a4cff"/><stop offset="1" stop-color="#1040ff"/></linearGradient></defs>
<rect x="85.4" y="2413.6" width="133" height="133" rx="8" fill="url(#lg)" stroke="#000" stroke-width="2.8"/>
<path d="M151.8 2413.6V2546.6" stroke="#000" stroke-width="1.6"/>
<text x="235.2" y="2433.5" font-size="32.5" textLength="18.7" lengthAdjust="spacingAndGlyphs">5</text>
<text x="235.2" y="2492.1" font-size="32.5" textLength="18.8" lengthAdjust="spacingAndGlyphs">0</text>
<text x="225.2" y="2550.2" font-size="32.5" textLength="28.7" lengthAdjust="spacingAndGlyphs">-5</text>
<text x="180.6" y="2600.3" font-size="37.5" textLength="108" lengthAdjust="spacingAndGlyphs">log<tspan font-size="23" dy="7">2</tspan><tspan dy="-7">FC</tspan></text>
<rect x="741.3" y="2265.4" width="1125.6" height="128.0" fill="#d0cece"/>
<rect x="741.3" y="2393.4" width="283.2" height="158.0" fill="#d0cece"/>
<path d="M1234.4 2341.5V2551.4M1654.2 2341.5V2551.4M741.3 2445.4H1866.9" stroke="#000" stroke-width="1.6" fill="none"/>
<path d="M1024.5 2341.5H1866.9" stroke="#000" stroke-width="2.2" fill="none"/>
<path d="M1024.5 2265.4V2551.4M1444.3 2265.4V2551.4M741.3 2393.4H1866.9M741.3 2498.0H1866.9" stroke="#000" stroke-width="3.2" fill="none"/>
<rect x="741.3" y="2265.4" width="1125.6" height="286.0" fill="none" stroke="#000" stroke-width="3.8"/>
<text x="764.6" y="2238.3" font-size="35" textLength="803" lengthAdjust="spacingAndGlyphs">Percentage of increased/decreased lipid mediators</text>
<text x="1235.1" y="2313.8" font-size="33" fill="#2a2a2a" text-anchor="middle" textLength="93.5" lengthAdjust="spacingAndGlyphs">IVI/NI</text>
<text x="1654.9" y="2313.8" font-size="33" fill="#2a2a2a" text-anchor="middle" textLength="172" lengthAdjust="spacingAndGlyphs">IVI+MT/IVI</text>
<text x="1129.8" y="2377" font-size="32" fill="#2a2a2a" text-anchor="middle" textLength="177.5" lengthAdjust="spacingAndGlyphs">Increase(%)</text>
<text x="1340.4" y="2377" font-size="32" fill="#2a2a2a" text-anchor="middle" textLength="190" lengthAdjust="spacingAndGlyphs">Decrease(%)</text>
<text x="1550" y="2377" font-size="32" fill="#2a2a2a" text-anchor="middle" textLength="176" lengthAdjust="spacingAndGlyphs">Increase(%)</text>
<text x="1760.2" y="2377" font-size="32" fill="#2a2a2a" text-anchor="middle" textLength="189.5" lengthAdjust="spacingAndGlyphs">Decrease(%)</text>
<text x="883.6" y="2431.2" font-size="30" fill="#2a2a2a" text-anchor="middle" textLength="246" lengthAdjust="spacingAndGlyphs"><tspan font-family="'Liberation Serif',serif">ω</tspan>-6 FA derived LM</text>
<text x="883.6" y="2483.1" font-size="30" fill="#2a2a2a" text-anchor="middle" textLength="195.5" lengthAdjust="spacingAndGlyphs">AA-derived LM</text>
<text x="884" y="2535.7" font-size="30" fill="#2a2a2a" text-anchor="middle" textLength="253" lengthAdjust="spacingAndGlyphs"><tspan font-family="'Liberation Serif',serif">ω</tspan>-3&#160; FA derived LM</text>
<text x="1129.8" y="2429" font-size="33" fill="#2a2a2a" text-anchor="middle" textLength="60.5" lengthAdjust="spacingAndGlyphs">36.4</text>
<text x="1339.6" y="2429" font-size="33" fill="#2a2a2a" text-anchor="middle" textLength="60.5" lengthAdjust="spacingAndGlyphs">63.6</text>
<text x="1549.6" y="2429" font-size="33" fill="#2a2a2a" text-anchor="middle" textLength="60.5" lengthAdjust="spacingAndGlyphs">70.9</text>
<text x="1760.2" y="2429" font-size="33" fill="#2a2a2a" text-anchor="middle" textLength="60.5" lengthAdjust="spacingAndGlyphs">29.1</text>
<text x="1129.8" y="2481" font-size="33" fill="#2a2a2a" text-anchor="middle" textLength="60.5" lengthAdjust="spacingAndGlyphs">40.0</text>
<text x="1339.6" y="2481" font-size="33" fill="#2a2a2a" text-anchor="middle" textLength="60.5" lengthAdjust="spacingAndGlyphs">60.0</text>
<text x="1549.6" y="2481" font-size="33" fill="#2a2a2a" text-anchor="middle" textLength="60.5" lengthAdjust="spacingAndGlyphs">77.5</text>
<text x="1760.2" y="2481" font-size="33" fill="#2a2a2a" text-anchor="middle" textLength="60.5" lengthAdjust="spacingAndGlyphs">22.5</text>
<text x="1129.8" y="2533.6" font-size="33" fill="#2a2a2a" text-anchor="middle" textLength="36" lengthAdjust="spacingAndGlyphs">60</text>
<text x="1339.6" y="2533.6" font-size="33" fill="#2a2a2a" text-anchor="middle" textLength="36" lengthAdjust="spacingAndGlyphs">40</text>
<text x="1549.6" y="2533.6" font-size="33" fill="#2a2a2a" text-anchor="middle" textLength="36" lengthAdjust="spacingAndGlyphs">75</text>
<text x="1760.2" y="2533.6" font-size="33" fill="#2a2a2a" text-anchor="middle" textLength="36" lengthAdjust="spacingAndGlyphs">25</text>
</svg>
</body></html>
